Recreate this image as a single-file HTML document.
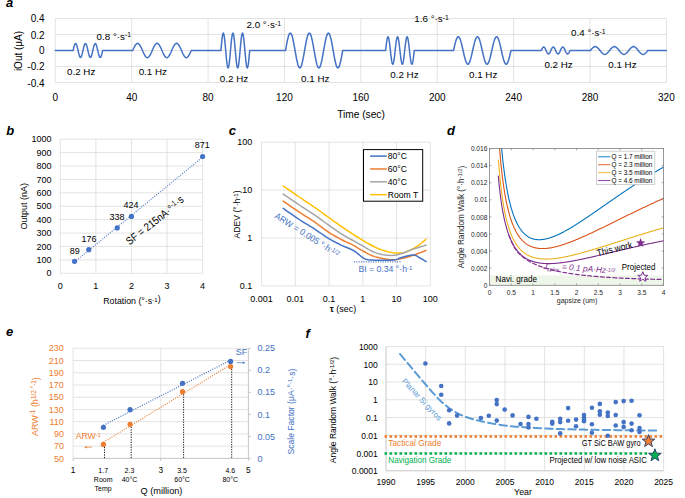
<!DOCTYPE html>
<html><head><meta charset="utf-8"><style>html,body{margin:0;padding:0;background:#fff;}svg{display:block;}text{font-family:"Liberation Sans",sans-serif;}</style></head>
<body><svg width="685" height="498" viewBox="0 0 685 498">
<rect width="685" height="498" fill="#fff"/>
<text x="6.00" y="7.00" font-size="13" text-anchor="start" fill="#000" dy="0" font-weight="bold" font-style="italic" >a</text>
<text x="6.20" y="134.80" font-size="13" text-anchor="start" fill="#000" dy="0" font-weight="bold" font-style="italic" >b</text>
<text x="228.70" y="135.20" font-size="13" text-anchor="start" fill="#000" dy="0" font-weight="bold" font-style="italic" >c</text>
<text x="447.00" y="135.00" font-size="13" text-anchor="start" fill="#000" dy="0" font-weight="bold" font-style="italic" >d</text>
<text x="6.00" y="335.70" font-size="13" text-anchor="start" fill="#000" dy="0" font-weight="bold" font-style="italic" >e</text>
<text x="305.50" y="338.00" font-size="13" text-anchor="start" fill="#000" dy="0" font-weight="bold" font-style="italic" >f</text>
<line x1="55.30" y1="18.50" x2="666.40" y2="18.50" stroke="#D9D9D9" stroke-width="0.75" />
<line x1="55.30" y1="34.50" x2="666.40" y2="34.50" stroke="#D9D9D9" stroke-width="0.75" />
<line x1="55.30" y1="50.50" x2="666.40" y2="50.50" stroke="#D9D9D9" stroke-width="0.75" />
<line x1="55.30" y1="66.50" x2="666.40" y2="66.50" stroke="#D9D9D9" stroke-width="0.75" />
<line x1="55.30" y1="82.50" x2="666.40" y2="82.50" stroke="#D9D9D9" stroke-width="0.75" />
<line x1="55.30" y1="18.50" x2="55.30" y2="82.50" stroke="#D9D9D9" stroke-width="0.75" />
<line x1="131.69" y1="18.50" x2="131.69" y2="82.50" stroke="#D9D9D9" stroke-width="0.75" />
<line x1="208.07" y1="18.50" x2="208.07" y2="82.50" stroke="#D9D9D9" stroke-width="0.75" />
<line x1="284.46" y1="18.50" x2="284.46" y2="82.50" stroke="#D9D9D9" stroke-width="0.75" />
<line x1="360.85" y1="18.50" x2="360.85" y2="82.50" stroke="#D9D9D9" stroke-width="0.75" />
<line x1="437.24" y1="18.50" x2="437.24" y2="82.50" stroke="#D9D9D9" stroke-width="0.75" />
<line x1="513.62" y1="18.50" x2="513.62" y2="82.50" stroke="#D9D9D9" stroke-width="0.75" />
<line x1="590.01" y1="18.50" x2="590.01" y2="82.50" stroke="#D9D9D9" stroke-width="0.75" />
<line x1="666.40" y1="18.50" x2="666.40" y2="82.50" stroke="#D9D9D9" stroke-width="0.75" />
<text x="44.60" y="18.60" font-size="10" text-anchor="end" fill="#000" dy="0.35em" >0.4</text>
<text x="44.60" y="35.00" font-size="10" text-anchor="end" fill="#000" dy="0.35em" >0.2</text>
<text x="44.60" y="50.60" font-size="10" text-anchor="end" fill="#000" dy="0.35em" >0</text>
<text x="44.60" y="66.70" font-size="10" text-anchor="end" fill="#000" dy="0.35em" >-0.2</text>
<text x="44.60" y="83.10" font-size="10" text-anchor="end" fill="#000" dy="0.35em" >-0.4</text>
<text x="55.30" y="97.60" font-size="10" text-anchor="middle" fill="#000" dy="0.35em" >0</text>
<text x="131.69" y="97.60" font-size="10" text-anchor="middle" fill="#000" dy="0.35em" >40</text>
<text x="208.07" y="97.60" font-size="10" text-anchor="middle" fill="#000" dy="0.35em" >80</text>
<text x="284.46" y="97.60" font-size="10" text-anchor="middle" fill="#000" dy="0.35em" >120</text>
<text x="360.85" y="97.60" font-size="10" text-anchor="middle" fill="#000" dy="0.35em" >160</text>
<text x="437.24" y="97.60" font-size="10" text-anchor="middle" fill="#000" dy="0.35em" >200</text>
<text x="513.62" y="97.60" font-size="10" text-anchor="middle" fill="#000" dy="0.35em" >240</text>
<text x="590.01" y="97.60" font-size="10" text-anchor="middle" fill="#000" dy="0.35em" >280</text>
<text x="666.40" y="97.60" font-size="10" text-anchor="middle" fill="#000" dy="0.35em" >320</text>
<text x="361.00" y="114.20" font-size="10.2" text-anchor="middle" fill="#000" dy="0.35em" >Time (sec)</text>
<text x="18" y="51" font-size="10" text-anchor="middle" dy="0.35em" transform="rotate(-90 18 51)">iOut (μA)</text>
<path d="M55.30,50.50 L73.14,50.50 L73.14,50.50 L73.63,48.34 L74.12,46.39 L74.61,44.84 L75.11,43.84 L75.60,43.50 L76.09,43.84 L76.58,44.84 L77.08,46.39 L77.57,48.34 L78.06,50.50 L78.55,52.66 L79.05,54.61 L79.54,56.16 L80.03,57.16 L80.52,57.50 L81.02,57.16 L81.51,56.16 L82.00,54.61 L82.49,52.66 L82.99,50.50 L83.48,48.34 L83.97,46.39 L84.46,44.84 L84.96,43.84 L85.45,43.50 L85.94,43.84 L86.43,44.84 L86.93,46.39 L87.42,48.34 L87.91,50.50 L88.40,52.66 L88.90,54.61 L89.39,56.16 L89.88,57.16 L90.37,57.50 L90.87,57.16 L91.36,56.16 L91.85,54.61 L92.34,52.66 L92.84,50.50 L93.33,48.34 L93.82,46.39 L94.31,44.84 L94.81,43.84 L95.30,43.50 L95.79,43.84 L96.28,44.84 L96.78,46.39 L97.27,48.34 L97.76,50.50 L98.25,52.66 L98.75,54.61 L99.24,56.16 L99.73,57.16 L100.22,57.50 L100.72,57.16 L101.21,56.16 L101.70,54.61 L102.19,52.66 L102.69,50.50 L132.72,50.50 L132.72,50.50 L133.70,48.28 L134.67,46.27 L135.65,44.68 L136.62,43.65 L137.60,43.30 L138.57,43.65 L139.55,44.68 L140.53,46.27 L141.50,48.28 L142.47,50.50 L143.45,52.72 L144.42,54.73 L145.40,56.32 L146.38,57.35 L147.35,57.70 L148.32,57.35 L149.30,56.32 L150.28,54.73 L151.25,52.72 L152.22,50.50 L153.20,48.28 L154.17,46.27 L155.15,44.68 L156.12,43.65 L157.10,43.30 L158.07,43.65 L159.05,44.68 L160.03,46.27 L161.00,48.28 L161.97,50.50 L162.95,52.72 L163.92,54.73 L164.90,56.32 L165.88,57.35 L166.85,57.70 L167.82,57.35 L168.80,56.32 L169.77,54.73 L170.75,52.72 L171.72,50.50 L172.70,48.28 L173.68,46.27 L174.65,44.68 L175.62,43.65 L176.60,43.30 L177.57,43.65 L178.55,44.68 L179.52,46.27 L180.50,48.28 L181.47,50.50 L182.45,52.72 L183.43,54.73 L184.40,56.32 L185.38,57.35 L186.35,57.70 L187.32,57.35 L188.30,56.32 L189.27,54.73 L190.25,52.72 L191.22,50.50 L220.90,50.50 L220.90,50.50 L221.38,45.09 L221.86,40.21 L222.34,36.34 L222.82,33.86 L223.30,33.00 L223.78,33.86 L224.26,36.34 L224.74,40.21 L225.22,45.09 L225.70,50.50 L226.18,55.91 L226.66,60.79 L227.14,64.66 L227.62,67.14 L228.10,68.00 L228.58,67.14 L229.06,64.66 L229.54,60.79 L230.02,55.91 L230.50,50.50 L230.98,45.09 L231.46,40.21 L231.94,36.34 L232.42,33.86 L232.90,33.00 L233.38,33.86 L233.86,36.34 L234.34,40.21 L234.82,45.09 L235.30,50.50 L235.78,55.91 L236.26,60.79 L236.74,64.66 L237.22,67.14 L237.70,68.00 L238.18,67.14 L238.66,64.66 L239.14,60.79 L239.62,55.91 L240.10,50.50 L240.58,45.09 L241.06,40.21 L241.54,36.34 L242.02,33.86 L242.50,33.00 L242.98,33.86 L243.46,36.34 L243.94,40.21 L244.42,45.09 L244.90,50.50 L245.38,55.91 L245.86,60.79 L246.34,64.66 L246.82,67.14 L247.30,68.00 L247.78,67.14 L248.26,64.66 L248.74,60.79 L249.22,55.91 L249.70,50.50 L285.54,50.50 L285.54,50.50 L286.49,45.09 L287.44,40.21 L288.40,36.34 L289.35,33.86 L290.30,33.00 L291.25,33.86 L292.21,36.34 L293.16,40.21 L294.11,45.09 L295.06,50.50 L296.02,55.91 L296.97,60.79 L297.92,64.66 L298.87,67.14 L299.83,68.00 L300.78,67.14 L301.73,64.66 L302.68,60.79 L303.64,55.91 L304.59,50.50 L305.54,45.09 L306.49,40.21 L307.45,36.34 L308.40,33.86 L309.35,33.00 L310.30,33.86 L311.26,36.34 L312.21,40.21 L313.16,45.09 L314.11,50.50 L315.06,55.91 L316.02,60.79 L316.97,64.66 L317.92,67.14 L318.88,68.00 L319.83,67.14 L320.78,64.66 L321.73,60.79 L322.69,55.91 L323.64,50.50 L324.59,45.09 L325.54,40.21 L326.50,36.34 L327.45,33.86 L328.40,33.00 L329.35,33.86 L330.31,36.34 L331.26,40.21 L332.21,45.09 L333.16,50.50 L334.12,55.91 L335.07,60.79 L336.02,64.66 L336.97,67.14 L337.93,68.00 L338.88,67.14 L339.83,64.66 L340.78,60.79 L341.74,55.91 L342.69,50.50 L385.61,50.50 L385.61,50.50 L386.09,46.24 L386.57,42.39 L387.05,39.34 L387.52,37.38 L388.00,36.70 L388.48,37.38 L388.95,39.34 L389.43,42.39 L389.91,46.24 L390.39,50.50 L390.87,54.76 L391.34,58.61 L391.82,61.66 L392.30,63.62 L392.78,64.30 L393.25,63.62 L393.73,61.66 L394.21,58.61 L394.69,54.76 L395.16,50.50 L395.64,46.24 L396.12,42.39 L396.60,39.34 L397.07,37.38 L397.55,36.70 L398.03,37.38 L398.50,39.34 L398.98,42.39 L399.46,46.24 L399.94,50.50 L400.42,54.76 L400.89,58.61 L401.37,61.66 L401.85,63.62 L402.32,64.30 L402.80,63.62 L403.28,61.66 L403.76,58.61 L404.24,54.76 L404.71,50.50 L405.19,46.24 L405.67,42.39 L406.15,39.34 L406.62,37.38 L407.10,36.70 L407.58,37.38 L408.06,39.34 L408.53,42.39 L409.01,46.24 L409.49,50.50 L409.97,54.76 L410.44,58.61 L410.92,61.66 L411.40,63.62 L411.88,64.30 L412.35,63.62 L412.83,61.66 L413.31,58.61 L413.79,54.76 L414.26,50.50 L453.51,50.50 L453.51,50.50 L454.47,46.24 L455.43,42.39 L456.38,39.34 L457.34,37.38 L458.30,36.70 L459.26,37.38 L460.21,39.34 L461.17,42.39 L462.13,46.24 L463.09,50.50 L464.04,54.76 L465.00,58.61 L465.96,61.66 L466.92,63.62 L467.88,64.30 L468.83,63.62 L469.79,61.66 L470.75,58.61 L471.70,54.76 L472.66,50.50 L473.62,46.24 L474.58,42.39 L475.53,39.34 L476.49,37.38 L477.45,36.70 L478.41,37.38 L479.37,39.34 L480.32,42.39 L481.28,46.24 L482.24,50.50 L483.19,54.76 L484.15,58.61 L485.11,61.66 L486.07,63.62 L487.02,64.30 L487.98,63.62 L488.94,61.66 L489.90,58.61 L490.85,54.76 L491.81,50.50 L492.77,46.24 L493.73,42.39 L494.69,39.34 L495.64,37.38 L496.60,36.70 L497.56,37.38 L498.51,39.34 L499.47,42.39 L500.43,46.24 L501.39,50.50 L502.34,54.76 L503.30,58.61 L504.26,61.66 L505.22,63.62 L506.17,64.30 L507.13,63.62 L508.09,61.66 L509.05,58.61 L510.00,54.76 L510.96,50.50 L541.31,50.50 L541.31,50.50 L541.79,49.42 L542.27,48.44 L542.75,47.67 L543.22,47.17 L543.70,47.00 L544.18,47.17 L544.65,47.67 L545.13,48.44 L545.61,49.42 L546.09,50.50 L546.57,51.58 L547.04,52.56 L547.52,53.33 L548.00,53.83 L548.48,54.00 L548.95,53.83 L549.43,53.33 L549.91,52.56 L550.38,51.58 L550.86,50.50 L551.34,49.42 L551.82,48.44 L552.29,47.67 L552.77,47.17 L553.25,47.00 L553.73,47.17 L554.21,47.67 L554.68,48.44 L555.16,49.42 L555.64,50.50 L556.12,51.58 L556.59,52.56 L557.07,53.33 L557.55,53.83 L558.02,54.00 L558.50,53.83 L558.98,53.33 L559.46,52.56 L559.93,51.58 L560.41,50.50 L560.89,49.42 L561.37,48.44 L561.85,47.67 L562.32,47.17 L562.80,47.00 L563.28,47.17 L563.75,47.67 L564.23,48.44 L564.71,49.42 L565.19,50.50 L565.66,51.58 L566.14,52.56 L566.62,53.33 L567.10,53.83 L567.58,54.00 L568.05,53.83 L568.53,53.33 L569.01,52.56 L569.49,51.58 L569.96,50.50 L590.41,50.50 L590.41,50.50 L591.37,49.29 L592.33,48.21 L593.28,47.34 L594.24,46.79 L595.20,46.60 L596.16,46.79 L597.12,47.34 L598.07,48.21 L599.03,49.29 L599.99,50.50 L600.95,51.71 L601.90,52.79 L602.86,53.66 L603.82,54.21 L604.77,54.40 L605.73,54.21 L606.69,53.66 L607.65,52.79 L608.61,51.71 L609.56,50.50 L610.52,49.29 L611.48,48.21 L612.44,47.34 L613.39,46.79 L614.35,46.60 L615.31,46.79 L616.26,47.34 L617.22,48.21 L618.18,49.29 L619.14,50.50 L620.10,51.71 L621.05,52.79 L622.01,53.66 L622.97,54.21 L623.93,54.40 L624.88,54.21 L625.84,53.66 L626.80,52.79 L627.75,51.71 L628.71,50.50 L629.67,49.29 L630.63,48.21 L631.59,47.34 L632.54,46.79 L633.50,46.60 L634.46,46.79 L635.41,47.34 L636.37,48.21 L637.33,49.29 L638.29,50.50 L639.25,51.71 L640.20,52.79 L641.16,53.66 L642.12,54.21 L643.08,54.40 L644.03,54.21 L644.99,53.66 L645.95,52.79 L646.90,51.71 L647.86,50.50 L666.40,50.50" fill="none" stroke="#4472C4" stroke-width="1.5" stroke-linejoin="round" stroke-linecap="round" />
<text x="96.60" y="36.30" font-size="9.8" text-anchor="start" fill="#000" dy="0.35em" >0.8 °·s<tspan dy="-0.35em" font-size="70%">-1</tspan></text>
<text x="246.50" y="24.70" font-size="9.8" text-anchor="start" fill="#000" dy="0.35em" >2.0 °·s<tspan dy="-0.35em" font-size="70%">-1</tspan></text>
<text x="414.30" y="18.80" font-size="9.8" text-anchor="start" fill="#000" dy="0.35em" >1.6 °·s<tspan dy="-0.35em" font-size="70%">-1</tspan></text>
<text x="571.10" y="32.60" font-size="9.8" text-anchor="start" fill="#000" dy="0.35em" >0.4 °·s<tspan dy="-0.35em" font-size="70%">-1</tspan></text>
<text x="81.15" y="71.30" font-size="9.8" text-anchor="middle" fill="#000" dy="0.35em" >0.2 Hz</text>
<text x="234.00" y="79.00" font-size="9.8" text-anchor="middle" fill="#000" dy="0.35em" >0.2 Hz</text>
<text x="404.45" y="74.60" font-size="9.8" text-anchor="middle" fill="#000" dy="0.35em" >0.2 Hz</text>
<text x="558.60" y="64.30" font-size="9.8" text-anchor="middle" fill="#000" dy="0.35em" >0.2 Hz</text>
<text x="152.85" y="71.30" font-size="9.8" text-anchor="middle" fill="#000" dy="0.35em" >0.1 Hz</text>
<text x="315.25" y="79.00" font-size="9.8" text-anchor="middle" fill="#000" dy="0.35em" >0.1 Hz</text>
<text x="483.15" y="74.60" font-size="9.8" text-anchor="middle" fill="#000" dy="0.35em" >0.1 Hz</text>
<text x="622.40" y="64.30" font-size="9.8" text-anchor="middle" fill="#000" dy="0.35em" >0.1 Hz</text>
<line x1="60.30" y1="273.30" x2="202.60" y2="273.30" stroke="#D9D9D9" stroke-width="0.75" />
<line x1="60.30" y1="259.89" x2="202.60" y2="259.89" stroke="#D9D9D9" stroke-width="0.75" />
<line x1="60.30" y1="246.48" x2="202.60" y2="246.48" stroke="#D9D9D9" stroke-width="0.75" />
<line x1="60.30" y1="233.07" x2="202.60" y2="233.07" stroke="#D9D9D9" stroke-width="0.75" />
<line x1="60.30" y1="219.66" x2="202.60" y2="219.66" stroke="#D9D9D9" stroke-width="0.75" />
<line x1="60.30" y1="206.25" x2="202.60" y2="206.25" stroke="#D9D9D9" stroke-width="0.75" />
<line x1="60.30" y1="192.84" x2="202.60" y2="192.84" stroke="#D9D9D9" stroke-width="0.75" />
<line x1="60.30" y1="179.43" x2="202.60" y2="179.43" stroke="#D9D9D9" stroke-width="0.75" />
<line x1="60.30" y1="166.02" x2="202.60" y2="166.02" stroke="#D9D9D9" stroke-width="0.75" />
<line x1="60.30" y1="152.61" x2="202.60" y2="152.61" stroke="#D9D9D9" stroke-width="0.75" />
<line x1="60.30" y1="139.20" x2="202.60" y2="139.20" stroke="#D9D9D9" stroke-width="0.75" />
<line x1="60.30" y1="139.20" x2="60.30" y2="273.30" stroke="#D9D9D9" stroke-width="0.75" />
<line x1="95.88" y1="139.20" x2="95.88" y2="273.30" stroke="#D9D9D9" stroke-width="0.75" />
<line x1="131.45" y1="139.20" x2="131.45" y2="273.30" stroke="#D9D9D9" stroke-width="0.75" />
<line x1="167.03" y1="139.20" x2="167.03" y2="273.30" stroke="#D9D9D9" stroke-width="0.75" />
<line x1="202.60" y1="139.20" x2="202.60" y2="273.30" stroke="#D9D9D9" stroke-width="0.75" />
<text x="51.50" y="273.30" font-size="9" text-anchor="end" fill="#000" dy="0.35em" >0</text>
<text x="51.50" y="259.89" font-size="9" text-anchor="end" fill="#000" dy="0.35em" >100</text>
<text x="51.50" y="246.48" font-size="9" text-anchor="end" fill="#000" dy="0.35em" >200</text>
<text x="51.50" y="233.07" font-size="9" text-anchor="end" fill="#000" dy="0.35em" >300</text>
<text x="51.50" y="219.66" font-size="9" text-anchor="end" fill="#000" dy="0.35em" >400</text>
<text x="51.50" y="206.25" font-size="9" text-anchor="end" fill="#000" dy="0.35em" >500</text>
<text x="51.50" y="192.84" font-size="9" text-anchor="end" fill="#000" dy="0.35em" >600</text>
<text x="51.50" y="179.43" font-size="9" text-anchor="end" fill="#000" dy="0.35em" >700</text>
<text x="51.50" y="166.02" font-size="9" text-anchor="end" fill="#000" dy="0.35em" >800</text>
<text x="51.50" y="152.61" font-size="9" text-anchor="end" fill="#000" dy="0.35em" >900</text>
<text x="51.50" y="139.20" font-size="9" text-anchor="end" fill="#000" dy="0.35em" >1000</text>
<text x="60.30" y="286.30" font-size="9" text-anchor="middle" fill="#000" dy="0.35em" >0</text>
<text x="95.88" y="286.30" font-size="9" text-anchor="middle" fill="#000" dy="0.35em" >1</text>
<text x="131.45" y="286.30" font-size="9" text-anchor="middle" fill="#000" dy="0.35em" >2</text>
<text x="167.03" y="286.30" font-size="9" text-anchor="middle" fill="#000" dy="0.35em" >3</text>
<text x="202.60" y="286.30" font-size="9" text-anchor="middle" fill="#000" dy="0.35em" >4</text>
<text x="131.90" y="300.70" font-size="8.8" text-anchor="middle" fill="#000" dy="0.35em" >Rotation (°·s<tspan dy="-0.35em" font-size="70%">-1</tspan>)</text>
<text x="23.7" y="206.3" font-size="9" text-anchor="middle" dy="0.35em" transform="rotate(-90 23.7 206.3)">Output (nA)</text>
<line x1="74.53" y1="262.00" x2="202.60" y2="157.17" stroke="#4472C4" stroke-width="1.1" stroke-dasharray="1 1.4"/>
<circle cx="74.53" cy="261.37" r="2.6" fill="#4472C4"/>
<circle cx="88.76" cy="249.70" r="2.6" fill="#4472C4"/>
<circle cx="117.22" cy="227.97" r="2.6" fill="#4472C4"/>
<circle cx="131.45" cy="216.44" r="2.6" fill="#4472C4"/>
<circle cx="202.60" cy="156.50" r="2.6" fill="#4472C4"/>
<text x="74.70" y="250.60" font-size="9" text-anchor="middle" fill="#000" dy="0.35em" >89</text>
<text x="88.90" y="238.50" font-size="9" text-anchor="middle" fill="#000" dy="0.35em" >176</text>
<text x="117.00" y="216.70" font-size="9" text-anchor="middle" fill="#000" dy="0.35em" >338</text>
<text x="131.10" y="205.30" font-size="9" text-anchor="middle" fill="#000" dy="0.35em" >424</text>
<text x="202.30" y="145.00" font-size="9" text-anchor="middle" fill="#000" dy="0.35em" >871</text>
<text x="0" y="0" font-size="11" transform="translate(129.5,245.5) rotate(-38) scale(0.86,1)">SF = 215nA·°<tspan dy="-0.45em" font-size="70%">-1</tspan><tspan dy="0.2em">·s</tspan></text>
<line x1="261.60" y1="142.20" x2="261.60" y2="285.90" stroke="#D9D9D9" stroke-width="0.75" />
<line x1="295.34" y1="142.20" x2="295.34" y2="285.90" stroke="#D9D9D9" stroke-width="0.75" />
<line x1="329.08" y1="142.20" x2="329.08" y2="285.90" stroke="#D9D9D9" stroke-width="0.75" />
<line x1="362.82" y1="142.20" x2="362.82" y2="285.90" stroke="#D9D9D9" stroke-width="0.75" />
<line x1="396.56" y1="142.20" x2="396.56" y2="285.90" stroke="#D9D9D9" stroke-width="0.75" />
<line x1="430.30" y1="142.20" x2="430.30" y2="285.90" stroke="#D9D9D9" stroke-width="0.75" />
<line x1="261.60" y1="285.90" x2="430.30" y2="285.90" stroke="#D9D9D9" stroke-width="0.75" />
<line x1="261.60" y1="238.00" x2="430.30" y2="238.00" stroke="#D9D9D9" stroke-width="0.75" />
<line x1="261.60" y1="190.10" x2="430.30" y2="190.10" stroke="#D9D9D9" stroke-width="0.75" />
<line x1="261.60" y1="142.20" x2="430.30" y2="142.20" stroke="#D9D9D9" stroke-width="0.75" />
<text x="252.30" y="142.20" font-size="9" text-anchor="end" fill="#000" dy="0.35em" >100</text>
<text x="252.30" y="190.10" font-size="9" text-anchor="end" fill="#000" dy="0.35em" >10</text>
<text x="252.30" y="238.00" font-size="9" text-anchor="end" fill="#000" dy="0.35em" >1</text>
<text x="252.30" y="285.90" font-size="9" text-anchor="end" fill="#000" dy="0.35em" >0.1</text>
<text x="261.60" y="298.50" font-size="9" text-anchor="middle" fill="#000" dy="0.35em" >0.001</text>
<text x="295.34" y="298.50" font-size="9" text-anchor="middle" fill="#000" dy="0.35em" >0.01</text>
<text x="329.08" y="298.50" font-size="9" text-anchor="middle" fill="#000" dy="0.35em" >0.1</text>
<text x="362.82" y="298.50" font-size="9" text-anchor="middle" fill="#000" dy="0.35em" >1</text>
<text x="396.56" y="298.50" font-size="9" text-anchor="middle" fill="#000" dy="0.35em" >10</text>
<text x="430.30" y="298.50" font-size="9" text-anchor="middle" fill="#000" dy="0.35em" >100</text>
<text x="343" y="308.5" font-size="9" text-anchor="middle" dy="0.35em"><tspan font-weight="bold">τ</tspan> (sec)</text>
<text x="236.8" y="214.4" font-size="8.6" text-anchor="middle" dy="0.35em" transform="rotate(-90 236.8 214.4)">ADEV (°·h<tspan dy="-0.35em" font-size="70%">-1</tspan><tspan dy="0.25em">)</tspan></text>
<path d="M283.20,186.00 L285.06,187.27 L287.66,189.06 L290.72,191.16 L293.98,193.39 L297.16,195.57 L300.00,197.50 L302.50,199.19 L304.88,200.78 L307.18,202.31 L309.46,203.83 L311.75,205.38 L314.10,207.00 L316.53,208.70 L319.00,210.46 L321.49,212.24 L323.97,214.03 L326.42,215.79 L328.80,217.50 L331.10,219.16 L333.34,220.78 L335.54,222.38 L337.74,223.96 L339.95,225.53 L342.20,227.10 L344.59,228.72 L347.10,230.39 L349.64,232.06 L352.07,233.64 L354.30,235.08 L356.20,236.30 L357.69,237.25 L358.86,237.98 L359.81,238.56 L360.67,239.07 L361.56,239.59 L362.60,240.20 L363.76,240.89 L364.94,241.60 L366.15,242.32 L367.39,243.05 L368.67,243.78 L370.00,244.50 L371.36,245.23 L372.74,245.97 L374.17,246.71 L375.64,247.43 L377.18,248.14 L378.80,248.80 L380.53,249.45 L382.38,250.09 L384.29,250.71 L386.22,251.29 L388.10,251.79 L389.90,252.20 L391.63,252.52 L393.34,252.77 L395.01,252.94 L396.62,253.06 L398.16,253.11 L399.60,253.10 L400.91,253.04 L402.09,252.94 L403.19,252.77 L404.27,252.53 L405.39,252.21 L406.60,251.80 L407.93,251.27 L409.35,250.61 L410.81,249.88 L412.25,249.10 L413.63,248.33 L414.90,247.60 L416.06,246.91 L417.14,246.23 L418.16,245.55 L419.13,244.87 L420.07,244.19 L421.00,243.50 L421.95,242.76 L422.93,241.95 L423.88,241.14 L424.74,240.39 L425.47,239.76 L426.00,239.30" fill="none" stroke="#FFC000" stroke-width="1.5" stroke-linejoin="round" stroke-linecap="round" />
<path d="M283.20,194.10 L285.06,195.37 L287.66,197.14 L290.72,199.22 L293.98,201.44 L297.16,203.60 L300.00,205.50 L302.50,207.15 L304.88,208.68 L307.18,210.16 L309.46,211.62 L311.75,213.12 L314.10,214.70 L316.53,216.39 L319.00,218.15 L321.49,219.95 L323.97,221.75 L326.42,223.51 L328.80,225.20 L331.13,226.84 L333.44,228.47 L335.72,230.06 L337.94,231.60 L340.11,233.05 L342.20,234.40 L344.22,235.63 L346.17,236.76 L348.06,237.80 L349.90,238.79 L351.67,239.75 L353.40,240.70 L355.02,241.62 L356.51,242.47 L357.94,243.29 L359.39,244.11 L360.92,244.97 L362.60,245.90 L364.44,246.95 L366.40,248.11 L368.44,249.30 L370.53,250.46 L372.63,251.52 L374.70,252.40 L376.78,253.12 L378.89,253.74 L381.01,254.25 L383.12,254.66 L385.19,254.98 L387.20,255.20 L389.08,255.34 L390.85,255.40 L392.58,255.37 L394.35,255.22 L396.23,254.93 L398.30,254.50 L400.63,253.84 L403.16,252.96 L405.81,251.94 L408.48,250.89 L411.08,249.87 L413.50,249.00 L415.88,248.22 L418.33,247.47 L420.70,246.76 L422.86,246.12 L424.67,245.59 L426.00,245.20" fill="none" stroke="#A5A5A5" stroke-width="1.5" stroke-linejoin="round" stroke-linecap="round" />
<path d="M283.20,201.10 L285.06,202.38 L287.66,204.17 L290.72,206.28 L293.98,208.52 L297.16,210.69 L300.00,212.60 L302.50,214.24 L304.88,215.76 L307.18,217.21 L309.46,218.64 L311.75,220.12 L314.10,221.70 L316.53,223.41 L319.00,225.23 L321.49,227.09 L323.97,228.93 L326.42,230.68 L328.80,232.30 L331.13,233.78 L333.44,235.17 L335.72,236.48 L337.94,237.72 L340.11,238.89 L342.20,240.00 L344.22,241.02 L346.17,241.94 L348.06,242.79 L349.90,243.61 L351.67,244.43 L353.40,245.30 L355.02,246.20 L356.51,247.11 L357.94,248.02 L359.39,248.94 L360.92,249.86 L362.60,250.80 L364.40,251.78 L366.25,252.81 L368.19,253.85 L370.23,254.86 L372.39,255.79 L374.70,256.60 L377.27,257.33 L380.10,258.00 L383.06,258.60 L386.01,259.10 L388.80,259.48 L391.30,259.70 L393.47,259.75 L395.41,259.63 L397.19,259.39 L398.90,259.06 L400.61,258.68 L402.40,258.30 L404.23,257.90 L406.05,257.46 L407.86,256.96 L409.70,256.42 L411.57,255.83 L413.50,255.20 L415.65,254.44 L418.03,253.55 L420.44,252.61 L422.71,251.71 L424.62,250.94 L426.00,250.40" fill="none" stroke="#ED7D31" stroke-width="1.5" stroke-linejoin="round" stroke-linecap="round" />
<path d="M283.20,208.40 L285.06,209.70 L287.66,211.51 L290.72,213.66 L293.98,215.92 L297.16,218.10 L300.00,220.00 L302.50,221.60 L304.88,223.07 L307.18,224.46 L309.46,225.82 L311.75,227.21 L314.10,228.70 L316.53,230.31 L319.00,232.02 L321.49,233.76 L323.97,235.47 L326.42,237.10 L328.80,238.60 L331.13,239.96 L333.44,241.23 L335.72,242.41 L337.94,243.53 L340.11,244.59 L342.20,245.60 L344.22,246.51 L346.17,247.31 L348.06,248.05 L349.90,248.79 L351.67,249.59 L353.40,250.50 L355.11,251.60 L356.81,252.87 L358.45,254.19 L359.99,255.47 L361.39,256.60 L362.60,257.50 L363.55,258.13 L364.27,258.56 L364.84,258.84 L365.36,259.04 L365.92,259.21 L366.60,259.40 L367.23,259.59 L367.70,259.75 L368.20,259.87 L368.94,259.96 L370.10,260.04 L371.90,260.10 L374.60,260.17 L378.10,260.26 L382.02,260.32 L386.01,260.33 L389.70,260.27 L392.70,260.10 L394.94,259.79 L396.70,259.36 L398.16,258.84 L399.47,258.30 L400.83,257.77 L402.40,257.30 L404.22,256.83 L406.17,256.30 L408.15,255.79 L410.09,255.36 L411.90,255.07 L413.50,255.00 L414.86,255.19 L416.03,255.59 L417.07,256.14 L418.04,256.77 L419.00,257.41 L420.00,258.00 L421.10,258.59 L422.26,259.26 L423.41,259.94 L424.46,260.57 L425.35,261.11 L426.00,261.50" fill="none" stroke="#4472C4" stroke-width="1.5" stroke-linejoin="round" stroke-linecap="round" />
<rect x="363.5" y="149.6" width="59.2" height="51.6" fill="#fff" stroke="#000" stroke-width="1"/>
<line x1="370.10" y1="156.10" x2="386.80" y2="156.10" stroke="#4472C4" stroke-width="1.5" />
<text x="387.80" y="156.10" font-size="8.6" text-anchor="start" fill="#000" dy="0.35em" >80°C</text>
<line x1="370.10" y1="168.95" x2="386.80" y2="168.95" stroke="#ED7D31" stroke-width="1.5" />
<text x="387.80" y="168.95" font-size="8.6" text-anchor="start" fill="#000" dy="0.35em" >60°C</text>
<line x1="370.10" y1="181.80" x2="386.80" y2="181.80" stroke="#A5A5A5" stroke-width="1.5" />
<text x="387.80" y="181.80" font-size="8.6" text-anchor="start" fill="#000" dy="0.35em" >40°C</text>
<line x1="370.10" y1="194.65" x2="386.80" y2="194.65" stroke="#FFC000" stroke-width="1.5" />
<text x="387.80" y="194.65" font-size="8.6" text-anchor="start" fill="#000" dy="0.35em" >Room T</text>
<text x="0" y="0" font-size="9" fill="#4472C4" transform="translate(274,217.5) rotate(32.5) scale(0.95,1)">ARW = 0.005 °·h<tspan dy="-0.4em" font-size="70%">-1/2</tspan></text>
<line x1="353.90" y1="261.90" x2="401.70" y2="261.90" stroke="#4472C4" stroke-width="1.1" stroke-dasharray="1 1.4"/>
<text x="358.40" y="269.20" font-size="8.7" text-anchor="start" fill="#4472C4" dy="0.35em" >BI = 0.34 °·h<tspan dy="-0.35em" font-size="70%">-1</tspan></text>
<rect x="489.6" y="275.4" width="173.89999999999998" height="9.900000000000034" fill="#EEF5E9"/>
<path d="M501.64,148.50 L502.00,152.32 L502.50,157.20 L503.00,161.76 L503.50,166.02 L504.00,170.01 L504.50,173.77 L505.00,177.30 L505.50,180.62 L506.00,183.75 L506.50,186.71 L507.00,189.50 L507.50,192.14 L508.00,194.65 L508.50,197.02 L509.00,199.26 L509.50,201.40 L510.00,203.42 L510.50,205.34 L511.00,207.17 L511.50,208.91 L512.00,210.57 L512.50,212.14 L513.00,213.64 L513.50,215.07 L514.00,216.43 L514.50,217.72 L515.00,218.95 L515.50,220.13 L516.00,221.25 L516.50,222.32 L517.00,223.34 L517.50,224.31 L518.00,225.24 L518.50,226.12 L519.00,226.96 L519.50,227.76 L520.00,228.52 L520.50,229.25 L521.00,229.94 L521.50,230.60 L522.00,231.22 L522.50,231.82 L523.00,232.38 L523.50,232.92 L524.00,233.43 L524.50,233.91 L525.00,234.37 L525.50,234.80 L526.00,235.21 L526.50,235.60 L527.00,235.96 L527.50,236.31 L528.00,236.63 L528.50,236.93 L529.00,237.22 L529.50,237.48 L530.00,237.73 L530.50,237.96 L531.00,238.17 L531.50,238.37 L532.00,238.55 L532.50,238.72 L533.00,238.87 L533.50,239.01 L534.00,239.14 L534.50,239.25 L535.00,239.35 L535.50,239.43 L536.00,239.51 L536.50,239.57 L537.00,239.62 L537.50,239.66 L538.00,239.69 L538.50,239.71 L539.00,239.71 L539.50,239.71 L540.00,239.70 L540.50,239.68 L541.00,239.65 L541.50,239.61 L542.00,239.57 L542.50,239.51 L543.00,239.45 L543.50,239.38 L544.00,239.30 L544.50,239.21 L545.00,239.12 L545.50,239.02 L546.00,238.91 L546.50,238.79 L547.00,238.67 L547.50,238.55 L548.00,238.41 L548.50,238.27 L549.00,238.13 L549.50,237.98 L550.00,237.82 L550.50,237.66 L551.00,237.49 L551.50,237.32 L552.00,237.14 L552.50,236.96 L553.00,236.77 L553.50,236.58 L554.00,236.38 L554.50,236.18 L555.00,235.98 L555.50,235.77 L556.00,235.56 L556.50,235.34 L557.00,235.12 L557.50,234.89 L558.00,234.66 L558.50,234.43 L559.00,234.20 L559.50,233.96 L560.00,233.71 L560.50,233.47 L561.00,233.22 L561.50,232.97 L562.00,232.71 L562.50,232.45 L563.00,232.19 L563.50,231.93 L564.00,231.66 L564.50,231.39 L565.00,231.12 L565.50,230.85 L566.00,230.57 L566.50,230.29 L567.00,230.01 L567.50,229.73 L568.00,229.44 L568.50,229.15 L569.00,228.86 L569.50,228.57 L570.00,228.28 L570.50,227.98 L571.00,227.68 L571.50,227.38 L572.00,227.08 L572.50,226.78 L573.00,226.47 L573.50,226.16 L574.00,225.86 L574.50,225.54 L575.00,225.23 L575.50,224.92 L576.00,224.61 L576.50,224.29 L577.00,223.97 L577.50,223.65 L578.00,223.33 L578.50,223.01 L579.00,222.69 L579.50,222.37 L580.00,222.04 L580.50,221.72 L581.00,221.39 L581.50,221.06 L582.00,220.73 L582.50,220.40 L583.00,220.07 L583.50,219.74 L584.00,219.41 L584.50,219.07 L585.00,218.74 L585.50,218.40 L586.00,218.07 L586.50,217.73 L587.00,217.39 L587.50,217.06 L588.00,216.72 L588.50,216.38 L589.00,216.04 L589.50,215.70 L590.00,215.36 L590.50,215.01 L591.00,214.67 L591.50,214.33 L592.00,213.99 L592.50,213.64 L593.00,213.30 L593.50,212.95 L594.00,212.61 L594.50,212.26 L595.00,211.92 L595.50,211.57 L596.00,211.23 L596.50,210.88 L597.00,210.53 L597.50,210.19 L598.00,209.84 L598.50,209.49 L599.00,209.15 L599.50,208.80 L600.00,208.45 L600.50,208.10 L601.00,207.76 L601.50,207.41 L602.00,207.06 L602.50,206.71 L603.00,206.36 L603.50,206.01 L604.00,205.67 L604.50,205.32 L605.00,204.97 L605.50,204.62 L606.00,204.27 L606.50,203.93 L607.00,203.58 L607.50,203.23 L608.00,202.88 L608.50,202.53 L609.00,202.19 L609.50,201.84 L610.00,201.49 L610.50,201.14 L611.00,200.80 L611.50,200.45 L612.00,200.10 L612.50,199.76 L613.00,199.41 L613.50,199.06 L614.00,198.72 L614.50,198.37 L615.00,198.03 L615.50,197.68 L616.00,197.34 L616.50,196.99 L617.00,196.65 L617.50,196.31 L618.00,195.96 L618.50,195.62 L619.00,195.28 L619.50,194.94 L620.00,194.59 L620.50,194.25 L621.00,193.91 L621.50,193.57 L622.00,193.23 L622.50,192.89 L623.00,192.55 L623.50,192.21 L624.00,191.87 L624.50,191.53 L625.00,191.20 L625.50,190.86 L626.00,190.52 L626.50,190.19 L627.00,189.85 L627.50,189.52 L628.00,189.18 L628.50,188.85 L629.00,188.51 L629.50,188.18 L630.00,187.85 L630.50,187.51 L631.00,187.18 L631.50,186.85 L632.00,186.52 L632.50,186.19 L633.00,185.86 L633.50,185.53 L634.00,185.21 L634.50,184.88 L635.00,184.55 L635.50,184.23 L636.00,183.90 L636.50,183.58 L637.00,183.25 L637.50,182.93 L638.00,182.60 L638.50,182.28 L639.00,181.96 L639.50,181.64 L640.00,181.32 L640.50,181.00 L641.00,180.68 L641.50,180.36 L642.00,180.04 L642.50,179.73 L643.00,179.41 L643.50,179.10 L644.00,178.78 L644.50,178.47 L645.00,178.15 L645.50,177.84 L646.00,177.53 L646.50,177.22 L647.00,176.91 L647.50,176.60 L648.00,176.29 L648.50,175.98 L649.00,175.67 L649.50,175.37 L650.00,175.06 L650.50,174.76 L651.00,174.45 L651.50,174.15 L652.00,173.85 L652.50,173.55 L653.00,173.25 L653.50,172.94 L654.00,172.65 L654.50,172.35 L655.00,172.05 L655.50,171.75 L656.00,171.46 L656.50,171.16 L657.00,170.87 L657.50,170.57 L658.00,170.28 L658.50,169.99 L659.00,169.70 L659.50,169.41 L660.00,169.12 L660.50,168.83 L661.00,168.54 L661.50,168.26 L662.00,167.97 L662.50,167.69 L663.00,167.40 L663.50,167.12" fill="none" stroke="#0072BD" stroke-width="1.1" stroke-linejoin="round" stroke-linecap="round" />
<path d="M499.58,148.50 L500.00,153.63 L500.50,159.24 L501.00,164.41 L501.50,169.20 L502.00,173.64 L502.50,177.77 L503.00,181.62 L503.50,185.22 L504.00,188.59 L504.50,191.74 L505.00,194.71 L505.50,197.50 L506.00,200.13 L506.50,202.61 L507.00,204.95 L507.50,207.16 L508.00,209.25 L508.50,211.23 L509.00,213.11 L509.50,214.89 L510.00,216.59 L510.50,218.20 L511.00,219.72 L511.50,221.18 L512.00,222.56 L512.50,223.88 L513.00,225.14 L513.50,226.34 L514.00,227.48 L514.50,228.57 L515.00,229.61 L515.50,230.60 L516.00,231.54 L516.50,232.45 L517.00,233.31 L517.50,234.14 L518.00,234.92 L518.50,235.68 L519.00,236.39 L519.50,237.08 L520.00,237.74 L520.50,238.36 L521.00,238.96 L521.50,239.53 L522.00,240.08 L522.50,240.60 L523.00,241.09 L523.50,241.57 L524.00,242.02 L524.50,242.45 L525.00,242.86 L525.50,243.25 L526.00,243.62 L526.50,243.97 L527.00,244.31 L527.50,244.63 L528.00,244.93 L528.50,245.22 L529.00,245.49 L529.50,245.75 L530.00,245.99 L530.50,246.22 L531.00,246.44 L531.50,246.64 L532.00,246.83 L532.50,247.01 L533.00,247.18 L533.50,247.33 L534.00,247.48 L534.50,247.61 L535.00,247.74 L535.50,247.85 L536.00,247.96 L536.50,248.06 L537.00,248.14 L537.50,248.22 L538.00,248.29 L538.50,248.35 L539.00,248.41 L539.50,248.45 L540.00,248.49 L540.50,248.52 L541.00,248.54 L541.50,248.56 L542.00,248.57 L542.50,248.57 L543.00,248.57 L543.50,248.56 L544.00,248.54 L544.50,248.52 L545.00,248.50 L545.50,248.46 L546.00,248.43 L546.50,248.38 L547.00,248.33 L547.50,248.28 L548.00,248.22 L548.50,248.16 L549.00,248.09 L549.50,248.02 L550.00,247.94 L550.50,247.86 L551.00,247.77 L551.50,247.68 L552.00,247.59 L552.50,247.49 L553.00,247.39 L553.50,247.28 L554.00,247.18 L554.50,247.06 L555.00,246.95 L555.50,246.83 L556.00,246.71 L556.50,246.58 L557.00,246.45 L557.50,246.32 L558.00,246.18 L558.50,246.05 L559.00,245.91 L559.50,245.76 L560.00,245.62 L560.50,245.47 L561.00,245.32 L561.50,245.16 L562.00,245.01 L562.50,244.85 L563.00,244.69 L563.50,244.52 L564.00,244.36 L564.50,244.19 L565.00,244.02 L565.50,243.85 L566.00,243.67 L566.50,243.49 L567.00,243.32 L567.50,243.14 L568.00,242.95 L568.50,242.77 L569.00,242.58 L569.50,242.40 L570.00,242.21 L570.50,242.02 L571.00,241.82 L571.50,241.63 L572.00,241.43 L572.50,241.24 L573.00,241.04 L573.50,240.84 L574.00,240.64 L574.50,240.43 L575.00,240.23 L575.50,240.02 L576.00,239.82 L576.50,239.61 L577.00,239.40 L577.50,239.19 L578.00,238.98 L578.50,238.77 L579.00,238.55 L579.50,238.34 L580.00,238.12 L580.50,237.90 L581.00,237.69 L581.50,237.47 L582.00,237.25 L582.50,237.03 L583.00,236.80 L583.50,236.58 L584.00,236.36 L584.50,236.13 L585.00,235.91 L585.50,235.68 L586.00,235.45 L586.50,235.23 L587.00,235.00 L587.50,234.77 L588.00,234.54 L588.50,234.31 L589.00,234.08 L589.50,233.85 L590.00,233.61 L590.50,233.38 L591.00,233.15 L591.50,232.91 L592.00,232.68 L592.50,232.44 L593.00,232.21 L593.50,231.97 L594.00,231.73 L594.50,231.50 L595.00,231.26 L595.50,231.02 L596.00,230.78 L596.50,230.54 L597.00,230.30 L597.50,230.06 L598.00,229.82 L598.50,229.58 L599.00,229.34 L599.50,229.10 L600.00,228.86 L600.50,228.61 L601.00,228.37 L601.50,228.13 L602.00,227.89 L602.50,227.64 L603.00,227.40 L603.50,227.16 L604.00,226.91 L604.50,226.67 L605.00,226.42 L605.50,226.18 L606.00,225.93 L606.50,225.69 L607.00,225.44 L607.50,225.20 L608.00,224.95 L608.50,224.71 L609.00,224.46 L609.50,224.22 L610.00,223.97 L610.50,223.72 L611.00,223.48 L611.50,223.23 L612.00,222.99 L612.50,222.74 L613.00,222.49 L613.50,222.25 L614.00,222.00 L614.50,221.75 L615.00,221.51 L615.50,221.26 L616.00,221.01 L616.50,220.77 L617.00,220.52 L617.50,220.27 L618.00,220.03 L618.50,219.78 L619.00,219.53 L619.50,219.29 L620.00,219.04 L620.50,218.80 L621.00,218.55 L621.50,218.30 L622.00,218.06 L622.50,217.81 L623.00,217.57 L623.50,217.32 L624.00,217.07 L624.50,216.83 L625.00,216.58 L625.50,216.34 L626.00,216.09 L626.50,215.85 L627.00,215.60 L627.50,215.36 L628.00,215.11 L628.50,214.87 L629.00,214.62 L629.50,214.38 L630.00,214.13 L630.50,213.89 L631.00,213.65 L631.50,213.40 L632.00,213.16 L632.50,212.92 L633.00,212.67 L633.50,212.43 L634.00,212.19 L634.50,211.95 L635.00,211.70 L635.50,211.46 L636.00,211.22 L636.50,210.98 L637.00,210.74 L637.50,210.50 L638.00,210.26 L638.50,210.02 L639.00,209.77 L639.50,209.53 L640.00,209.30 L640.50,209.06 L641.00,208.82 L641.50,208.58 L642.00,208.34 L642.50,208.10 L643.00,207.86 L643.50,207.62 L644.00,207.39 L644.50,207.15 L645.00,206.91 L645.50,206.68 L646.00,206.44 L646.50,206.20 L647.00,205.97 L647.50,205.73 L648.00,205.50 L648.50,205.26 L649.00,205.03 L649.50,204.80 L650.00,204.56 L650.50,204.33 L651.00,204.10 L651.50,203.86 L652.00,203.63 L652.50,203.40 L653.00,203.17 L653.50,202.94 L654.00,202.71 L654.50,202.48 L655.00,202.25 L655.50,202.02 L656.00,201.79 L656.50,201.56 L657.00,201.33 L657.50,201.10 L658.00,200.87 L658.50,200.64 L659.00,200.42 L659.50,200.19 L660.00,199.96 L660.50,199.74 L661.00,199.51 L661.50,199.29 L662.00,199.06 L662.50,198.84 L663.00,198.62 L663.50,198.39" fill="none" stroke="#D95319" stroke-width="1.1" stroke-linejoin="round" stroke-linecap="round" />
<path d="M498.44,160.10 L498.50,160.92 L499.00,167.25 L499.50,173.00 L500.00,178.26 L500.50,183.07 L501.00,187.49 L501.50,191.58 L502.00,195.36 L502.50,198.86 L503.00,202.12 L503.50,205.16 L504.00,208.00 L504.50,210.66 L505.00,213.15 L505.50,215.49 L506.00,217.69 L506.50,219.76 L507.00,221.72 L507.50,223.56 L508.00,225.31 L508.50,226.96 L509.00,228.52 L509.50,230.01 L510.00,231.41 L510.50,232.75 L511.00,234.02 L511.50,235.23 L512.00,236.38 L512.50,237.47 L513.00,238.52 L513.50,239.51 L514.00,240.46 L514.50,241.37 L515.00,242.23 L515.50,243.06 L516.00,243.84 L516.50,244.60 L517.00,245.32 L517.50,246.01 L518.00,246.67 L518.50,247.29 L519.00,247.90 L519.50,248.47 L520.00,249.03 L520.50,249.55 L521.00,250.06 L521.50,250.54 L522.00,251.00 L522.50,251.45 L523.00,251.87 L523.50,252.28 L524.00,252.66 L524.50,253.03 L525.00,253.39 L525.50,253.73 L526.00,254.05 L526.50,254.36 L527.00,254.66 L527.50,254.94 L528.00,255.21 L528.50,255.46 L529.00,255.71 L529.50,255.94 L530.00,256.16 L530.50,256.37 L531.00,256.58 L531.50,256.77 L532.00,256.95 L532.50,257.12 L533.00,257.28 L533.50,257.44 L534.00,257.58 L534.50,257.72 L535.00,257.85 L535.50,257.97 L536.00,258.08 L536.50,258.19 L537.00,258.29 L537.50,258.38 L538.00,258.47 L538.50,258.55 L539.00,258.62 L539.50,258.69 L540.00,258.75 L540.50,258.81 L541.00,258.86 L541.50,258.90 L542.00,258.94 L542.50,258.97 L543.00,259.00 L543.50,259.03 L544.00,259.05 L544.50,259.06 L545.00,259.08 L545.50,259.08 L546.00,259.09 L546.50,259.08 L547.00,259.08 L547.50,259.07 L548.00,259.06 L548.50,259.04 L549.00,259.02 L549.50,258.99 L550.00,258.97 L550.50,258.94 L551.00,258.90 L551.50,258.87 L552.00,258.82 L552.50,258.78 L553.00,258.74 L553.50,258.69 L554.00,258.64 L554.50,258.58 L555.00,258.52 L555.50,258.46 L556.00,258.40 L556.50,258.34 L557.00,258.27 L557.50,258.20 L558.00,258.13 L558.50,258.05 L559.00,257.98 L559.50,257.90 L560.00,257.82 L560.50,257.74 L561.00,257.65 L561.50,257.57 L562.00,257.48 L562.50,257.39 L563.00,257.30 L563.50,257.20 L564.00,257.11 L564.50,257.01 L565.00,256.91 L565.50,256.81 L566.00,256.71 L566.50,256.61 L567.00,256.50 L567.50,256.40 L568.00,256.29 L568.50,256.18 L569.00,256.07 L569.50,255.96 L570.00,255.84 L570.50,255.73 L571.00,255.61 L571.50,255.50 L572.00,255.38 L572.50,255.26 L573.00,255.14 L573.50,255.02 L574.00,254.89 L574.50,254.77 L575.00,254.65 L575.50,254.52 L576.00,254.39 L576.50,254.26 L577.00,254.14 L577.50,254.01 L578.00,253.88 L578.50,253.74 L579.00,253.61 L579.50,253.48 L580.00,253.35 L580.50,253.21 L581.00,253.08 L581.50,252.94 L582.00,252.80 L582.50,252.66 L583.00,252.53 L583.50,252.39 L584.00,252.25 L584.50,252.11 L585.00,251.97 L585.50,251.82 L586.00,251.68 L586.50,251.54 L587.00,251.40 L587.50,251.25 L588.00,251.11 L588.50,250.96 L589.00,250.82 L589.50,250.67 L590.00,250.52 L590.50,250.38 L591.00,250.23 L591.50,250.08 L592.00,249.93 L592.50,249.78 L593.00,249.63 L593.50,249.48 L594.00,249.33 L594.50,249.18 L595.00,249.03 L595.50,248.88 L596.00,248.73 L596.50,248.58 L597.00,248.42 L597.50,248.27 L598.00,248.12 L598.50,247.96 L599.00,247.81 L599.50,247.66 L600.00,247.50 L600.50,247.35 L601.00,247.19 L601.50,247.04 L602.00,246.88 L602.50,246.73 L603.00,246.57 L603.50,246.42 L604.00,246.26 L604.50,246.10 L605.00,245.95 L605.50,245.79 L606.00,245.63 L606.50,245.48 L607.00,245.32 L607.50,245.16 L608.00,245.00 L608.50,244.85 L609.00,244.69 L609.50,244.53 L610.00,244.37 L610.50,244.22 L611.00,244.06 L611.50,243.90 L612.00,243.74 L612.50,243.58 L613.00,243.42 L613.50,243.26 L614.00,243.11 L614.50,242.95 L615.00,242.79 L615.50,242.63 L616.00,242.47 L616.50,242.31 L617.00,242.15 L617.50,241.99 L618.00,241.83 L618.50,241.68 L619.00,241.52 L619.50,241.36 L620.00,241.20 L620.50,241.04 L621.00,240.88 L621.50,240.72 L622.00,240.56 L622.50,240.40 L623.00,240.24 L623.50,240.08 L624.00,239.93 L624.50,239.77 L625.00,239.61 L625.50,239.45 L626.00,239.29 L626.50,239.13 L627.00,238.97 L627.50,238.81 L628.00,238.66 L628.50,238.50 L629.00,238.34 L629.50,238.18 L630.00,238.02 L630.50,237.86 L631.00,237.71 L631.50,237.55 L632.00,237.39 L632.50,237.23 L633.00,237.08 L633.50,236.92 L634.00,236.76 L634.50,236.60 L635.00,236.45 L635.50,236.29 L636.00,236.13 L636.50,235.98 L637.00,235.82 L637.50,235.66 L638.00,235.51 L638.50,235.35 L639.00,235.19 L639.50,235.04 L640.00,234.88 L640.50,234.73 L641.00,234.57 L641.50,234.42 L642.00,234.26 L642.50,234.11 L643.00,233.95 L643.50,233.80 L644.00,233.64 L644.50,233.49 L645.00,233.33 L645.50,233.18 L646.00,233.03 L646.50,232.87 L647.00,232.72 L647.50,232.56 L648.00,232.41 L648.50,232.26 L649.00,232.11 L649.50,231.95 L650.00,231.80 L650.50,231.65 L651.00,231.50 L651.50,231.35 L652.00,231.20 L652.50,231.04 L653.00,230.89 L653.50,230.74 L654.00,230.59 L654.50,230.44 L655.00,230.29 L655.50,230.14 L656.00,229.99 L656.50,229.84 L657.00,229.69 L657.50,229.55 L658.00,229.40 L658.50,229.25 L659.00,229.10 L659.50,228.95 L660.00,228.80 L660.50,228.66 L661.00,228.51 L661.50,228.36 L662.00,228.22 L662.50,228.07 L663.00,227.92 L663.50,227.78" fill="none" stroke="#EDB120" stroke-width="1.1" stroke-linejoin="round" stroke-linecap="round" />
<path d="M498.32,176.10 L498.50,178.29 L499.00,183.49 L499.50,188.23 L500.00,192.59 L500.50,196.59 L501.00,200.29 L501.50,203.72 L502.00,206.90 L502.50,209.86 L503.00,212.63 L503.50,215.21 L504.00,217.63 L504.50,219.91 L505.00,222.05 L505.50,224.06 L506.00,225.96 L506.50,227.75 L507.00,229.45 L507.50,231.05 L508.00,232.58 L508.50,234.02 L509.00,235.39 L509.50,236.69 L510.00,237.93 L510.50,239.11 L511.00,240.23 L511.50,241.30 L512.00,242.32 L512.50,243.30 L513.00,244.23 L513.50,245.12 L514.00,245.96 L514.50,246.78 L515.00,247.55 L515.50,248.30 L516.00,249.01 L516.50,249.69 L517.00,250.34 L517.50,250.97 L518.00,251.57 L518.50,252.14 L519.00,252.69 L519.50,253.22 L520.00,253.72 L520.50,254.21 L521.00,254.68 L521.50,255.12 L522.00,255.55 L522.50,255.96 L523.00,256.35 L523.50,256.73 L524.00,257.09 L524.50,257.44 L525.00,257.77 L525.50,258.09 L526.00,258.40 L526.50,258.69 L527.00,258.97 L527.50,259.24 L528.00,259.50 L528.50,259.75 L529.00,259.98 L529.50,260.21 L530.00,260.43 L530.50,260.63 L531.00,260.83 L531.50,261.02 L532.00,261.20 L532.50,261.37 L533.00,261.53 L533.50,261.68 L534.00,261.83 L534.50,261.97 L535.00,262.10 L535.50,262.23 L536.00,262.35 L536.50,262.46 L537.00,262.57 L537.50,262.67 L538.00,262.76 L538.50,262.85 L539.00,262.93 L539.50,263.01 L540.00,263.08 L540.50,263.15 L541.00,263.21 L541.50,263.27 L542.00,263.32 L542.50,263.37 L543.00,263.41 L543.50,263.45 L544.00,263.48 L544.50,263.51 L545.00,263.54 L545.50,263.56 L546.00,263.58 L546.50,263.60 L547.00,263.61 L547.50,263.62 L548.00,263.62 L548.50,263.62 L549.00,263.62 L549.50,263.62 L550.00,263.61 L550.50,263.60 L551.00,263.58 L551.50,263.57 L552.00,263.55 L552.50,263.52 L553.00,263.50 L553.50,263.47 L554.00,263.44 L554.50,263.41 L555.00,263.37 L555.50,263.34 L556.00,263.30 L556.50,263.26 L557.00,263.21 L557.50,263.17 L558.00,263.12 L558.50,263.07 L559.00,263.02 L559.50,262.96 L560.00,262.91 L560.50,262.85 L561.00,262.79 L561.50,262.73 L562.00,262.67 L562.50,262.60 L563.00,262.54 L563.50,262.47 L564.00,262.40 L564.50,262.33 L565.00,262.26 L565.50,262.18 L566.00,262.11 L566.50,262.03 L567.00,261.96 L567.50,261.88 L568.00,261.80 L568.50,261.72 L569.00,261.63 L569.50,261.55 L570.00,261.47 L570.50,261.38 L571.00,261.29 L571.50,261.20 L572.00,261.12 L572.50,261.03 L573.00,260.93 L573.50,260.84 L574.00,260.75 L574.50,260.66 L575.00,260.56 L575.50,260.47 L576.00,260.37 L576.50,260.27 L577.00,260.17 L577.50,260.08 L578.00,259.98 L578.50,259.88 L579.00,259.77 L579.50,259.67 L580.00,259.57 L580.50,259.47 L581.00,259.36 L581.50,259.26 L582.00,259.15 L582.50,259.05 L583.00,258.94 L583.50,258.84 L584.00,258.73 L584.50,258.62 L585.00,258.51 L585.50,258.40 L586.00,258.30 L586.50,258.19 L587.00,258.08 L587.50,257.96 L588.00,257.85 L588.50,257.74 L589.00,257.63 L589.50,257.52 L590.00,257.41 L590.50,257.29 L591.00,257.18 L591.50,257.07 L592.00,256.95 L592.50,256.84 L593.00,256.72 L593.50,256.61 L594.00,256.49 L594.50,256.38 L595.00,256.26 L595.50,256.15 L596.00,256.03 L596.50,255.91 L597.00,255.80 L597.50,255.68 L598.00,255.56 L598.50,255.44 L599.00,255.33 L599.50,255.21 L600.00,255.09 L600.50,254.97 L601.00,254.86 L601.50,254.74 L602.00,254.62 L602.50,254.50 L603.00,254.38 L603.50,254.26 L604.00,254.14 L604.50,254.03 L605.00,253.91 L605.50,253.79 L606.00,253.67 L606.50,253.55 L607.00,253.43 L607.50,253.31 L608.00,253.19 L608.50,253.07 L609.00,252.95 L609.50,252.83 L610.00,252.71 L610.50,252.59 L611.00,252.47 L611.50,252.35 L612.00,252.24 L612.50,252.12 L613.00,252.00 L613.50,251.88 L614.00,251.76 L614.50,251.64 L615.00,251.52 L615.50,251.40 L616.00,251.28 L616.50,251.16 L617.00,251.04 L617.50,250.92 L618.00,250.81 L618.50,250.69 L619.00,250.57 L619.50,250.45 L620.00,250.33 L620.50,250.21 L621.00,250.10 L621.50,249.98 L622.00,249.86 L622.50,249.74 L623.00,249.62 L623.50,249.51 L624.00,249.39 L624.50,249.27 L625.00,249.15 L625.50,249.04 L626.00,248.92 L626.50,248.80 L627.00,248.69 L627.50,248.57 L628.00,248.45 L628.50,248.34 L629.00,248.22 L629.50,248.11 L630.00,247.99 L630.50,247.88 L631.00,247.76 L631.50,247.65 L632.00,247.53 L632.50,247.42 L633.00,247.30 L633.50,247.19 L634.00,247.08 L634.50,246.96 L635.00,246.85 L635.50,246.74 L636.00,246.62 L636.50,246.51 L637.00,246.40 L637.50,246.29 L638.00,246.17 L638.50,246.06 L639.00,245.95 L639.50,245.84 L640.00,245.73 L640.50,245.62 L641.00,245.51 L641.50,245.40 L642.00,245.29 L642.50,245.18 L643.00,245.07 L643.50,244.96 L644.00,244.85 L644.50,244.74 L645.00,244.63 L645.50,244.53 L646.00,244.42 L646.50,244.31 L647.00,244.20 L647.50,244.10 L648.00,243.99 L648.50,243.88 L649.00,243.78 L649.50,243.67 L650.00,243.57 L650.50,243.46 L651.00,243.36 L651.50,243.25 L652.00,243.15 L652.50,243.04 L653.00,242.94 L653.50,242.84 L654.00,242.74 L654.50,242.63 L655.00,242.53 L655.50,242.43 L656.00,242.33 L656.50,242.23 L657.00,242.13 L657.50,242.02 L658.00,241.92 L658.50,241.82 L659.00,241.73 L659.50,241.63 L660.00,241.53 L660.50,241.43 L661.00,241.33 L661.50,241.23 L662.00,241.14 L662.50,241.04 L663.00,240.94 L663.50,240.85" fill="none" stroke="#7E2F8E" stroke-width="1.1" stroke-linejoin="round" stroke-linecap="round" />
<path d="M509.00,235.39 L509.50,236.72 L510.00,238.02 L510.50,239.29 L511.00,240.51 L511.50,241.70 L512.00,242.83 L512.50,243.91 L513.00,244.94 L513.50,245.91 L514.00,246.83 L514.50,247.70 L515.00,248.52 L515.50,249.30 L516.00,250.03 L516.50,250.72 L517.00,251.37 L517.50,251.98 L518.00,252.56 L518.50,253.11 L519.00,253.63 L519.50,254.13 L520.00,254.60 L520.50,255.05 L521.00,255.48 L521.50,255.91 L522.00,256.32 L522.50,256.73 L523.00,257.12 L523.50,257.50 L524.00,257.88 L524.50,258.24 L525.00,258.59 L525.50,258.94 L526.00,259.28 L526.50,259.61 L527.00,259.93 L527.50,260.24 L528.00,260.55 L528.50,260.85 L529.00,261.14 L529.50,261.43 L530.00,261.71 L530.50,261.99 L531.00,262.26 L531.50,262.52 L532.00,262.78 L532.50,263.03 L533.00,263.27 L533.50,263.52 L534.00,263.75 L534.50,263.98 L535.00,264.21 L535.50,264.44 L536.00,264.65 L536.50,264.87 L537.00,265.08 L537.50,265.29 L538.00,265.49 L538.50,265.69 L539.00,265.88 L539.50,266.07 L540.00,266.26 L540.50,266.45 L541.00,266.63 L541.50,266.81 L542.00,266.98 L542.50,267.16 L543.00,267.32 L543.50,267.49 L544.00,267.65 L544.50,267.82 L545.00,267.97 L545.50,268.13 L546.00,268.28 L546.50,268.43 L547.00,268.58 L547.50,268.73 L548.00,268.87 L548.50,269.01 L549.00,269.15 L549.50,269.29 L550.00,269.42 L550.50,269.55 L551.00,269.68 L551.50,269.81 L552.00,269.94 L552.50,270.06 L553.00,270.19 L553.50,270.31 L554.00,270.43 L554.50,270.54 L555.00,270.66 L555.50,270.77 L556.00,270.89 L556.50,271.00 L557.00,271.11 L557.50,271.21 L558.00,271.32 L558.50,271.43 L559.00,271.53 L559.50,271.63 L560.00,271.73 L560.50,271.83 L561.00,271.93 L561.50,272.02 L562.00,272.12 L562.50,272.21 L563.00,272.31 L563.50,272.40 L564.00,272.49 L564.50,272.58 L565.00,272.66 L565.50,272.75 L566.00,272.84 L566.50,272.92 L567.00,273.00 L567.50,273.09 L568.00,273.17 L568.50,273.25 L569.00,273.33 L569.50,273.40 L570.00,273.48 L570.50,273.56 L571.00,273.63 L571.50,273.71 L572.00,273.78 L572.50,273.85 L573.00,273.93 L573.50,274.00 L574.00,274.07 L574.50,274.14 L575.00,274.20 L575.50,274.27 L576.00,274.34 L576.50,274.40 L577.00,274.47 L577.50,274.53 L578.00,274.60 L578.50,274.66 L579.00,274.72 L579.50,274.78 L580.00,274.84 L580.50,274.90 L581.00,274.96 L581.50,275.02 L582.00,275.08 L582.50,275.14 L583.00,275.19 L583.50,275.25 L584.00,275.30 L584.50,275.36 L585.00,275.41 L585.50,275.46 L586.00,275.52 L586.50,275.57 L587.00,275.62 L587.50,275.67 L588.00,275.72 L588.50,275.77 L589.00,275.82 L589.50,275.87 L590.00,275.92 L590.50,275.97 L591.00,276.01 L591.50,276.06 L592.00,276.11 L592.50,276.15 L593.00,276.20 L593.50,276.24 L594.00,276.29 L594.50,276.33 L595.00,276.37 L595.50,276.42 L596.00,276.46 L596.50,276.50 L597.00,276.54 L597.50,276.58 L598.00,276.62 L598.50,276.66 L599.00,276.70 L599.50,276.74 L600.00,276.78 L600.50,276.82 L601.00,276.86 L601.50,276.90 L602.00,276.93 L602.50,276.97 L603.00,277.01 L603.50,277.04 L604.00,277.08 L604.50,277.11 L605.00,277.15 L605.50,277.18 L606.00,277.22 L606.50,277.25 L607.00,277.28 L607.50,277.32 L608.00,277.35 L608.50,277.38 L609.00,277.41 L609.50,277.45 L610.00,277.48 L610.50,277.51 L611.00,277.54 L611.50,277.57 L612.00,277.60 L612.50,277.63 L613.00,277.66 L613.50,277.69 L614.00,277.72 L614.50,277.75 L615.00,277.77 L615.50,277.80 L616.00,277.83 L616.50,277.86 L617.00,277.89 L617.50,277.91 L618.00,277.94 L618.50,277.97 L619.00,277.99 L619.50,278.02 L620.00,278.04 L620.50,278.07 L621.00,278.09 L621.50,278.12 L622.00,278.14 L622.50,278.17 L623.00,278.19 L623.50,278.21 L624.00,278.24 L624.50,278.26 L625.00,278.28 L625.50,278.31 L626.00,278.33 L626.50,278.35 L627.00,278.37 L627.50,278.40 L628.00,278.42 L628.50,278.44 L629.00,278.46 L629.50,278.48 L630.00,278.50 L630.50,278.52 L631.00,278.54 L631.50,278.56 L632.00,278.58 L632.50,278.60 L633.00,278.62 L633.50,278.64 L634.00,278.66 L634.50,278.68 L635.00,278.70 L635.50,278.72 L636.00,278.73 L636.50,278.75 L637.00,278.77 L637.50,278.79 L638.00,278.81 L638.50,278.82 L639.00,278.84 L639.50,278.86 L640.00,278.87 L640.50,278.89 L641.00,278.91 L641.50,278.92 L642.00,278.94 L642.50,278.96 L643.00,278.97 L643.50,278.99 L644.00,279.00 L644.50,279.02 L645.00,279.03 L645.50,279.05 L646.00,279.06 L646.50,279.08 L647.00,279.09 L647.50,279.11 L648.00,279.12 L648.50,279.13 L649.00,279.15 L649.50,279.16 L650.00,279.17 L650.50,279.19 L651.00,279.20 L651.50,279.21 L652.00,279.23 L652.50,279.24 L653.00,279.25 L653.50,279.26 L654.00,279.28 L654.50,279.29 L655.00,279.30 L655.50,279.31 L656.00,279.32 L656.50,279.34 L657.00,279.35 L657.50,279.36 L658.00,279.37 L658.50,279.38 L659.00,279.39 L659.50,279.40 L660.00,279.41 L660.50,279.42 L661.00,279.43 L661.50,279.45 L662.00,279.46" fill="none" stroke="#7E2F8E" stroke-width="1.2" stroke-linejoin="round" stroke-linecap="round" stroke-dasharray="3.9 2.4" stroke-linecap="butt"/>
<rect x="489.6" y="148.5" width="173.89999999999998" height="136.8" fill="none" stroke="#7f7f7f" stroke-width="0.8"/>
<line x1="489.60" y1="285.30" x2="491.40" y2="285.30" stroke="#7f7f7f" stroke-width="0.7" />
<line x1="661.70" y1="285.30" x2="663.50" y2="285.30" stroke="#7f7f7f" stroke-width="0.7" />
<text x="487.40" y="285.60" font-size="6.6" text-anchor="end" fill="#262626" dy="0.35em" >0</text>
<line x1="489.60" y1="268.20" x2="491.40" y2="268.20" stroke="#7f7f7f" stroke-width="0.7" />
<line x1="661.70" y1="268.20" x2="663.50" y2="268.20" stroke="#7f7f7f" stroke-width="0.7" />
<text x="487.40" y="268.50" font-size="6.6" text-anchor="end" fill="#262626" dy="0.35em" >0.002</text>
<line x1="489.60" y1="251.10" x2="491.40" y2="251.10" stroke="#7f7f7f" stroke-width="0.7" />
<line x1="661.70" y1="251.10" x2="663.50" y2="251.10" stroke="#7f7f7f" stroke-width="0.7" />
<text x="487.40" y="251.40" font-size="6.6" text-anchor="end" fill="#262626" dy="0.35em" >0.004</text>
<line x1="489.60" y1="234.00" x2="491.40" y2="234.00" stroke="#7f7f7f" stroke-width="0.7" />
<line x1="661.70" y1="234.00" x2="663.50" y2="234.00" stroke="#7f7f7f" stroke-width="0.7" />
<text x="487.40" y="234.30" font-size="6.6" text-anchor="end" fill="#262626" dy="0.35em" >0.006</text>
<line x1="489.60" y1="216.90" x2="491.40" y2="216.90" stroke="#7f7f7f" stroke-width="0.7" />
<line x1="661.70" y1="216.90" x2="663.50" y2="216.90" stroke="#7f7f7f" stroke-width="0.7" />
<text x="487.40" y="217.20" font-size="6.6" text-anchor="end" fill="#262626" dy="0.35em" >0.008</text>
<line x1="489.60" y1="199.80" x2="491.40" y2="199.80" stroke="#7f7f7f" stroke-width="0.7" />
<line x1="661.70" y1="199.80" x2="663.50" y2="199.80" stroke="#7f7f7f" stroke-width="0.7" />
<text x="487.40" y="200.10" font-size="6.6" text-anchor="end" fill="#262626" dy="0.35em" >0.01</text>
<line x1="489.60" y1="182.70" x2="491.40" y2="182.70" stroke="#7f7f7f" stroke-width="0.7" />
<line x1="661.70" y1="182.70" x2="663.50" y2="182.70" stroke="#7f7f7f" stroke-width="0.7" />
<text x="487.40" y="183.00" font-size="6.6" text-anchor="end" fill="#262626" dy="0.35em" >0.012</text>
<line x1="489.60" y1="165.60" x2="491.40" y2="165.60" stroke="#7f7f7f" stroke-width="0.7" />
<line x1="661.70" y1="165.60" x2="663.50" y2="165.60" stroke="#7f7f7f" stroke-width="0.7" />
<text x="487.40" y="165.90" font-size="6.6" text-anchor="end" fill="#262626" dy="0.35em" >0.014</text>
<line x1="489.60" y1="148.50" x2="491.40" y2="148.50" stroke="#7f7f7f" stroke-width="0.7" />
<line x1="661.70" y1="148.50" x2="663.50" y2="148.50" stroke="#7f7f7f" stroke-width="0.7" />
<text x="487.40" y="148.80" font-size="6.6" text-anchor="end" fill="#262626" dy="0.35em" >0.016</text>
<line x1="489.60" y1="285.30" x2="489.60" y2="283.50" stroke="#7f7f7f" stroke-width="0.7" />
<line x1="489.60" y1="148.50" x2="489.60" y2="150.30" stroke="#7f7f7f" stroke-width="0.7" />
<text x="489.60" y="292.30" font-size="6.6" text-anchor="middle" fill="#262626" dy="0.35em" >0</text>
<line x1="511.34" y1="285.30" x2="511.34" y2="283.50" stroke="#7f7f7f" stroke-width="0.7" />
<line x1="511.34" y1="148.50" x2="511.34" y2="150.30" stroke="#7f7f7f" stroke-width="0.7" />
<text x="511.34" y="292.30" font-size="6.6" text-anchor="middle" fill="#262626" dy="0.35em" >0.5</text>
<line x1="533.08" y1="285.30" x2="533.08" y2="283.50" stroke="#7f7f7f" stroke-width="0.7" />
<line x1="533.08" y1="148.50" x2="533.08" y2="150.30" stroke="#7f7f7f" stroke-width="0.7" />
<text x="533.08" y="292.30" font-size="6.6" text-anchor="middle" fill="#262626" dy="0.35em" >1</text>
<line x1="554.81" y1="285.30" x2="554.81" y2="283.50" stroke="#7f7f7f" stroke-width="0.7" />
<line x1="554.81" y1="148.50" x2="554.81" y2="150.30" stroke="#7f7f7f" stroke-width="0.7" />
<text x="554.81" y="292.30" font-size="6.6" text-anchor="middle" fill="#262626" dy="0.35em" >1.5</text>
<line x1="576.55" y1="285.30" x2="576.55" y2="283.50" stroke="#7f7f7f" stroke-width="0.7" />
<line x1="576.55" y1="148.50" x2="576.55" y2="150.30" stroke="#7f7f7f" stroke-width="0.7" />
<text x="576.55" y="292.30" font-size="6.6" text-anchor="middle" fill="#262626" dy="0.35em" >2</text>
<line x1="598.29" y1="285.30" x2="598.29" y2="283.50" stroke="#7f7f7f" stroke-width="0.7" />
<line x1="598.29" y1="148.50" x2="598.29" y2="150.30" stroke="#7f7f7f" stroke-width="0.7" />
<text x="598.29" y="292.30" font-size="6.6" text-anchor="middle" fill="#262626" dy="0.35em" >2.5</text>
<line x1="620.02" y1="285.30" x2="620.02" y2="283.50" stroke="#7f7f7f" stroke-width="0.7" />
<line x1="620.02" y1="148.50" x2="620.02" y2="150.30" stroke="#7f7f7f" stroke-width="0.7" />
<text x="620.02" y="292.30" font-size="6.6" text-anchor="middle" fill="#262626" dy="0.35em" >3</text>
<line x1="641.76" y1="285.30" x2="641.76" y2="283.50" stroke="#7f7f7f" stroke-width="0.7" />
<line x1="641.76" y1="148.50" x2="641.76" y2="150.30" stroke="#7f7f7f" stroke-width="0.7" />
<text x="641.76" y="292.30" font-size="6.6" text-anchor="middle" fill="#262626" dy="0.35em" >3.5</text>
<line x1="663.50" y1="285.30" x2="663.50" y2="283.50" stroke="#7f7f7f" stroke-width="0.7" />
<line x1="663.50" y1="148.50" x2="663.50" y2="150.30" stroke="#7f7f7f" stroke-width="0.7" />
<text x="663.50" y="292.30" font-size="6.6" text-anchor="middle" fill="#262626" dy="0.35em" >4</text>
<text x="577.00" y="300.50" font-size="7" text-anchor="middle" fill="#262626" dy="0.35em" >gapsize (um)</text>
<text x="461" y="217" font-size="8.2" text-anchor="middle" dy="0.35em" fill="#262626" transform="rotate(-90 461 217)">Angle Random Walk (°·h<tspan dy="-0.35em" font-size="70%">-1/2</tspan><tspan dy="0.35em">)</tspan></text>
<text x="0" y="0" font-size="9.3" fill="#000" transform="translate(495.6,281.7) scale(0.87,1)">Navi. grade</text>
<rect x="596.6" y="151.2" width="58.2" height="33.3" fill="#fff" stroke="#bfbfbf" stroke-width="0.7"/>
<line x1="598.10" y1="156.80" x2="610.30" y2="156.80" stroke="#0072BD" stroke-width="0.9" />
<text x="611.40" y="156.80" font-size="6.4" text-anchor="start" fill="#000" dy="0.35em" >Q = 1.7 million</text>
<line x1="598.10" y1="164.73" x2="610.30" y2="164.73" stroke="#D95319" stroke-width="0.9" />
<text x="611.40" y="164.73" font-size="6.4" text-anchor="start" fill="#000" dy="0.35em" >Q = 2.3 million</text>
<line x1="598.10" y1="172.66" x2="610.30" y2="172.66" stroke="#EDB120" stroke-width="0.9" />
<text x="611.40" y="172.66" font-size="6.4" text-anchor="start" fill="#000" dy="0.35em" >Q = 3.5 million</text>
<line x1="598.10" y1="180.59" x2="610.30" y2="180.59" stroke="#7E2F8E" stroke-width="0.9" />
<text x="611.40" y="180.59" font-size="6.4" text-anchor="start" fill="#000" dy="0.35em" >Q = 4.6 million</text>
<path d="M640.60,238.10 L641.81,241.34 L645.26,241.49 L642.56,243.64 L643.48,246.96 L640.60,245.06 L637.72,246.96 L638.64,243.64 L635.94,241.49 L639.39,241.34Z" fill="#7E2F8E" stroke="none" stroke-width="0" stroke-linejoin="miter"/>
<path d="M642.80,271.70 L644.11,275.20 L647.84,275.36 L644.92,277.69 L645.92,281.29 L642.80,279.23 L639.68,281.29 L640.68,277.69 L637.76,275.36 L641.49,275.20Z" fill="#fff" stroke="#7E2F8E" stroke-width="1.0" stroke-linejoin="miter"/>
<text x="0" y="0" font-size="9.8" fill="#000" transform="translate(597.8,256.4) rotate(-14) scale(0.86,1)">This work</text>
<text x="0" y="0" font-size="9.6" fill="#000" transform="translate(621.8,269.7) scale(0.83,1)">Projected</text>
<text x="0" y="0" font-size="8.4" font-style="italic" fill="#7E2F8E" transform="translate(543.0,269.0) rotate(4.5)">J<tspan font-size="62%" dy="0.3em">spike</tspan><tspan dy="-0.3em"> = 0.1 pA·Hz</tspan><tspan font-size="62%" dy="-0.3em">-1/2</tspan></text>
<line x1="73.10" y1="446.17" x2="248.40" y2="446.17" stroke="#D9D9D9" stroke-width="0.75" />
<line x1="73.10" y1="433.93" x2="248.40" y2="433.93" stroke="#D9D9D9" stroke-width="0.75" />
<line x1="73.10" y1="421.70" x2="248.40" y2="421.70" stroke="#D9D9D9" stroke-width="0.75" />
<line x1="73.10" y1="409.47" x2="248.40" y2="409.47" stroke="#D9D9D9" stroke-width="0.75" />
<line x1="73.10" y1="397.23" x2="248.40" y2="397.23" stroke="#D9D9D9" stroke-width="0.75" />
<line x1="73.10" y1="385.00" x2="248.40" y2="385.00" stroke="#D9D9D9" stroke-width="0.75" />
<line x1="73.10" y1="372.77" x2="248.40" y2="372.77" stroke="#D9D9D9" stroke-width="0.75" />
<line x1="73.10" y1="360.53" x2="248.40" y2="360.53" stroke="#D9D9D9" stroke-width="0.75" />
<line x1="73.10" y1="348.30" x2="248.40" y2="348.30" stroke="#D9D9D9" stroke-width="0.75" />
<line x1="160.75" y1="348.30" x2="160.75" y2="458.40" stroke="#D9D9D9" stroke-width="0.75" />
<line x1="73.10" y1="348.30" x2="73.10" y2="458.40" stroke="#D9D9D9" stroke-width="0.75" />
<line x1="73.10" y1="458.40" x2="248.40" y2="458.40" stroke="#BFBFBF" stroke-width="0.9" />
<line x1="248.40" y1="348.30" x2="248.40" y2="458.40" stroke="#BFBFBF" stroke-width="0.9" />
<line x1="73.10" y1="458.40" x2="73.10" y2="460.90" stroke="#BFBFBF" stroke-width="0.9" />
<line x1="160.75" y1="458.40" x2="160.75" y2="460.90" stroke="#BFBFBF" stroke-width="0.9" />
<line x1="248.40" y1="458.40" x2="248.40" y2="460.90" stroke="#BFBFBF" stroke-width="0.9" />
<line x1="248.40" y1="458.40" x2="250.90" y2="458.40" stroke="#BFBFBF" stroke-width="0.9" />
<line x1="248.40" y1="436.38" x2="250.90" y2="436.38" stroke="#BFBFBF" stroke-width="0.9" />
<line x1="248.40" y1="414.36" x2="250.90" y2="414.36" stroke="#BFBFBF" stroke-width="0.9" />
<line x1="248.40" y1="392.34" x2="250.90" y2="392.34" stroke="#BFBFBF" stroke-width="0.9" />
<line x1="248.40" y1="370.32" x2="250.90" y2="370.32" stroke="#BFBFBF" stroke-width="0.9" />
<line x1="248.40" y1="348.30" x2="250.90" y2="348.30" stroke="#BFBFBF" stroke-width="0.9" />
<text x="63.90" y="458.40" font-size="9" text-anchor="end" fill="#ED7D31" dy="0.35em" >50</text>
<text x="63.90" y="446.17" font-size="9" text-anchor="end" fill="#ED7D31" dy="0.35em" >70</text>
<text x="63.90" y="433.93" font-size="9" text-anchor="end" fill="#ED7D31" dy="0.35em" >90</text>
<text x="63.90" y="421.70" font-size="9" text-anchor="end" fill="#ED7D31" dy="0.35em" >110</text>
<text x="63.90" y="409.47" font-size="9" text-anchor="end" fill="#ED7D31" dy="0.35em" >130</text>
<text x="63.90" y="397.23" font-size="9" text-anchor="end" fill="#ED7D31" dy="0.35em" >150</text>
<text x="63.90" y="385.00" font-size="9" text-anchor="end" fill="#ED7D31" dy="0.35em" >170</text>
<text x="63.90" y="372.77" font-size="9" text-anchor="end" fill="#ED7D31" dy="0.35em" >190</text>
<text x="63.90" y="360.53" font-size="9" text-anchor="end" fill="#ED7D31" dy="0.35em" >210</text>
<text x="63.90" y="348.30" font-size="9" text-anchor="end" fill="#ED7D31" dy="0.35em" >230</text>
<text x="257.60" y="458.40" font-size="9" text-anchor="start" fill="#4472C4" dy="0.35em" >0</text>
<text x="257.60" y="436.38" font-size="9" text-anchor="start" fill="#4472C4" dy="0.35em" >0.05</text>
<text x="257.60" y="414.36" font-size="9" text-anchor="start" fill="#4472C4" dy="0.35em" >0.1</text>
<text x="257.60" y="392.34" font-size="9" text-anchor="start" fill="#4472C4" dy="0.35em" >0.15</text>
<text x="257.60" y="370.32" font-size="9" text-anchor="start" fill="#4472C4" dy="0.35em" >0.2</text>
<text x="257.60" y="348.30" font-size="9" text-anchor="start" fill="#4472C4" dy="0.35em" >0.25</text>
<text x="73.10" y="469.70" font-size="8.3" text-anchor="middle" fill="#000" dy="0.35em" >1</text>
<text x="160.75" y="469.70" font-size="8.3" text-anchor="middle" fill="#000" dy="0.35em" >3</text>
<text x="248.40" y="469.70" font-size="8.3" text-anchor="middle" fill="#000" dy="0.35em" >5</text>
<text x="103.18" y="470.20" font-size="7" text-anchor="middle" fill="#000" dy="0.35em" >1.7</text>
<text x="103.18" y="479.40" font-size="7" text-anchor="middle" fill="#000" dy="0.35em" >Room</text>
<text x="103.18" y="488.20" font-size="7" text-anchor="middle" fill="#000" dy="0.35em" >Temp</text>
<text x="129.47" y="470.20" font-size="7" text-anchor="middle" fill="#000" dy="0.35em" >2.3</text>
<text x="129.47" y="479.40" font-size="7" text-anchor="middle" fill="#000" dy="0.35em" >40°C</text>
<text x="182.06" y="470.20" font-size="7" text-anchor="middle" fill="#000" dy="0.35em" >3.5</text>
<text x="182.06" y="479.40" font-size="7" text-anchor="middle" fill="#000" dy="0.35em" >60°C</text>
<text x="230.27" y="470.20" font-size="7" text-anchor="middle" fill="#000" dy="0.35em" >4.6</text>
<text x="230.27" y="479.40" font-size="7" text-anchor="middle" fill="#000" dy="0.35em" >80°C</text>
<text x="161.50" y="490.90" font-size="9.2" text-anchor="middle" fill="#000" dy="0.35em" >Q (million)</text>
<text x="34.4" y="406.6" font-size="9" text-anchor="middle" dy="0.35em" fill="#ED7D31" transform="rotate(-90 34.4 406.6)">ARW<tspan dy="-0.35em" font-size="70%">-1</tspan><tspan dy="0.35em"> (h</tspan><tspan dy="-0.35em" font-size="70%">1/2</tspan><tspan font-size="70%">·°-1</tspan><tspan dy="0.35em">)</tspan></text>
<text x="290.6" y="411.6" font-size="8.6" text-anchor="middle" dy="0.35em" fill="#4472C4" transform="rotate(-90 290.6 411.6)">Scale Factor (μA·°<tspan dy="-0.35em" font-size="70%">-1</tspan><tspan dy="0.35em">·s)</tspan></text>
<line x1="104.50" y1="444.40" x2="104.50" y2="458.40" stroke="#111" stroke-width="1.0" stroke-dasharray="1.2 1.3"/>
<line x1="131.20" y1="424.30" x2="131.20" y2="458.40" stroke="#111" stroke-width="1.0" stroke-dasharray="1.2 1.3"/>
<line x1="183.60" y1="391.70" x2="183.60" y2="458.40" stroke="#111" stroke-width="1.0" stroke-dasharray="1.2 1.3"/>
<line x1="231.70" y1="366.60" x2="231.70" y2="458.40" stroke="#111" stroke-width="1.0" stroke-dasharray="1.2 1.3"/>
<line x1="103.40" y1="442.20" x2="230.60" y2="364.80" stroke="#ED7D31" stroke-width="1.2" stroke-dasharray="1 1.4"/>
<line x1="103.40" y1="425.30" x2="230.60" y2="360.10" stroke="#4472C4" stroke-width="1.2" stroke-dasharray="1 1.4"/>
<circle cx="103.40" cy="427.30" r="2.6" fill="#4472C4"/>
<circle cx="103.40" cy="444.40" r="2.6" fill="#ED7D31"/>
<circle cx="130.10" cy="409.70" r="2.6" fill="#4472C4"/>
<circle cx="130.10" cy="424.30" r="2.6" fill="#ED7D31"/>
<circle cx="182.50" cy="383.30" r="2.6" fill="#4472C4"/>
<circle cx="182.50" cy="391.70" r="2.6" fill="#ED7D31"/>
<circle cx="230.60" cy="361.40" r="2.6" fill="#4472C4"/>
<circle cx="230.60" cy="366.60" r="2.6" fill="#ED7D31"/>
<text x="75.70" y="436.40" font-size="8.6" text-anchor="start" fill="#ED7D31" dy="0.35em" >ARW<tspan dy="-0.35em" font-size="70%">-1</tspan></text>
<line x1="86.00" y1="447.20" x2="92.00" y2="447.20" stroke="#ED7D31" stroke-width="0.7" />
<path d="M84.2,447.2 L86.6,446 L86.6,448.4Z" fill="#ED7D31"/>
<text x="235.70" y="351.90" font-size="9" text-anchor="start" fill="#4472C4" dy="0.35em" >SF</text>
<line x1="237.00" y1="362.70" x2="243.50" y2="362.70" stroke="#4472C4" stroke-width="0.7" />
<path d="M245.3,362.7 L242.9,361.5 L242.9,363.9Z" fill="#4472C4"/>
<line x1="425.66" y1="346.50" x2="425.66" y2="470.80" stroke="#D9D9D9" stroke-width="0.75" />
<line x1="465.31" y1="346.50" x2="465.31" y2="470.80" stroke="#D9D9D9" stroke-width="0.75" />
<line x1="504.97" y1="346.50" x2="504.97" y2="470.80" stroke="#D9D9D9" stroke-width="0.75" />
<line x1="544.63" y1="346.50" x2="544.63" y2="470.80" stroke="#D9D9D9" stroke-width="0.75" />
<line x1="584.29" y1="346.50" x2="584.29" y2="470.80" stroke="#D9D9D9" stroke-width="0.75" />
<line x1="623.94" y1="346.50" x2="623.94" y2="470.80" stroke="#D9D9D9" stroke-width="0.75" />
<line x1="663.60" y1="346.50" x2="663.60" y2="470.80" stroke="#D9D9D9" stroke-width="0.75" />
<line x1="386.00" y1="453.04" x2="663.60" y2="453.04" stroke="#D9D9D9" stroke-width="0.75" />
<line x1="386.00" y1="435.29" x2="663.60" y2="435.29" stroke="#D9D9D9" stroke-width="0.75" />
<line x1="386.00" y1="417.53" x2="663.60" y2="417.53" stroke="#D9D9D9" stroke-width="0.75" />
<line x1="386.00" y1="399.77" x2="663.60" y2="399.77" stroke="#D9D9D9" stroke-width="0.75" />
<line x1="386.00" y1="382.01" x2="663.60" y2="382.01" stroke="#D9D9D9" stroke-width="0.75" />
<line x1="386.00" y1="364.26" x2="663.60" y2="364.26" stroke="#D9D9D9" stroke-width="0.75" />
<line x1="386.00" y1="346.50" x2="663.60" y2="346.50" stroke="#D9D9D9" stroke-width="0.75" />
<line x1="386.00" y1="346.50" x2="386.00" y2="470.80" stroke="#BFBFBF" stroke-width="0.9" />
<line x1="386.00" y1="470.80" x2="663.60" y2="470.80" stroke="#BFBFBF" stroke-width="0.9" />
<text x="377.80" y="347.00" font-size="8.5" text-anchor="end" fill="#000" dy="0.35em" >1000</text>
<text x="377.80" y="364.76" font-size="8.5" text-anchor="end" fill="#000" dy="0.35em" >100</text>
<text x="377.80" y="382.51" font-size="8.5" text-anchor="end" fill="#000" dy="0.35em" >10</text>
<text x="377.80" y="400.27" font-size="8.5" text-anchor="end" fill="#000" dy="0.35em" >1</text>
<text x="377.80" y="418.03" font-size="8.5" text-anchor="end" fill="#000" dy="0.35em" >0.1</text>
<text x="377.80" y="435.79" font-size="8.5" text-anchor="end" fill="#000" dy="0.35em" >0.01</text>
<text x="377.80" y="453.54" font-size="8.5" text-anchor="end" fill="#000" dy="0.35em" >0.001</text>
<text x="377.80" y="471.30" font-size="8.5" text-anchor="end" fill="#000" dy="0.35em" >0.0001</text>
<text x="386.00" y="482.00" font-size="8.5" text-anchor="middle" fill="#000" dy="0.35em" >1990</text>
<text x="425.66" y="482.00" font-size="8.5" text-anchor="middle" fill="#000" dy="0.35em" >1995</text>
<text x="465.31" y="482.00" font-size="8.5" text-anchor="middle" fill="#000" dy="0.35em" >2000</text>
<text x="504.97" y="482.00" font-size="8.5" text-anchor="middle" fill="#000" dy="0.35em" >2005</text>
<text x="544.63" y="482.00" font-size="8.5" text-anchor="middle" fill="#000" dy="0.35em" >2010</text>
<text x="584.29" y="482.00" font-size="8.5" text-anchor="middle" fill="#000" dy="0.35em" >2015</text>
<text x="623.94" y="482.00" font-size="8.5" text-anchor="middle" fill="#000" dy="0.35em" >2020</text>
<text x="663.60" y="482.00" font-size="8.5" text-anchor="middle" fill="#000" dy="0.35em" >2025</text>
<text x="523.00" y="492.00" font-size="8.8" text-anchor="middle" fill="#000" dy="0.35em" >Year</text>
<text x="333.1" y="410" font-size="8.5" text-anchor="middle" dy="0.35em" fill="#000" transform="rotate(-90 333.1 410)">Angle Random Walk (°·h<tspan dy="-0.35em" font-size="70%">-1/2</tspan><tspan dy="0.35em">)</tspan></text>
<line x1="384.50" y1="436.50" x2="662.50" y2="436.50" stroke="#ED7D31" stroke-width="2.6" stroke-dasharray="2.6 2.4"/>
<line x1="384.50" y1="453.50" x2="648.00" y2="453.50" stroke="#00B050" stroke-width="2.6" stroke-dasharray="2.6 2.4"/>
<text x="388.30" y="443.20" font-size="8.4" text-anchor="start" fill="#ED7D31" dy="0.35em" textLength="53" lengthAdjust="spacingAndGlyphs" >Tactical Grade</text>
<text x="388.30" y="459.70" font-size="8.4" text-anchor="start" fill="#00B050" dy="0.35em" textLength="63" lengthAdjust="spacingAndGlyphs" >Navigation Grade</text>
<path d="M400.10,354.10 L401.63,355.93 L403.64,358.35 L406.04,361.23 L408.72,364.46 L411.59,367.90 L414.54,371.43 L417.47,374.93 L420.30,378.28 L422.91,381.34 L425.20,384.00 L427.24,386.34 L429.15,388.54 L430.96,390.61 L432.67,392.56 L434.32,394.40 L435.93,396.15 L437.49,397.81 L439.05,399.40 L440.61,400.92 L442.20,402.40 L443.79,403.80 L445.36,405.11 L446.90,406.34 L448.42,407.48 L449.93,408.55 L451.42,409.56 L452.90,410.51 L454.37,411.41 L455.84,412.27 L457.30,413.10 L458.73,413.87 L460.12,414.57 L461.47,415.20 L462.82,415.77 L464.16,416.30 L465.51,416.80 L466.90,417.28 L468.33,417.74 L469.83,418.22 L471.40,418.70 L473.05,419.19 L474.76,419.66 L476.53,420.13 L478.35,420.58 L480.19,421.01 L482.07,421.44 L483.95,421.85 L485.84,422.24 L487.73,422.63 L489.60,423.00 L491.43,423.36 L493.23,423.70 L495.01,424.03 L496.79,424.35 L498.59,424.65 L500.44,424.94 L502.34,425.22 L504.32,425.49 L506.40,425.75 L508.60,426.00 L510.93,426.24 L513.39,426.46 L515.96,426.67 L518.60,426.87 L521.30,427.06 L524.04,427.24 L526.79,427.42 L529.53,427.58 L532.24,427.74 L534.90,427.90 L537.47,428.05 L539.94,428.19 L542.37,428.32 L544.78,428.45 L547.21,428.57 L549.71,428.68 L552.31,428.79 L555.05,428.90 L557.97,429.00 L561.10,429.10 L564.39,429.20 L567.77,429.29 L571.24,429.37 L574.84,429.45 L578.58,429.53 L582.48,429.61 L586.55,429.68 L590.81,429.75 L595.29,429.83 L600.00,429.90 L605.27,429.98 L611.26,430.06 L617.75,430.14 L624.50,430.22 L631.28,430.30 L637.87,430.38 L644.04,430.44 L649.55,430.51 L654.18,430.56 L657.70,430.60" fill="none" stroke="#5B9BD5" stroke-width="2.0" stroke-linejoin="round" stroke-linecap="round" stroke-dasharray="7.5 4" stroke-linecap="butt"/>
<text x="0" y="0" font-size="8" fill="#5B9BD5" transform="translate(401.5,381.5) rotate(47)">Planar Si gyros</text>
<circle cx="425.36" cy="363.50" r="2.3" fill="#4472C4"/>
<circle cx="441.22" cy="386.00" r="2.3" fill="#4472C4"/>
<circle cx="441.22" cy="394.80" r="2.3" fill="#4472C4"/>
<circle cx="449.15" cy="410.30" r="2.3" fill="#4472C4"/>
<circle cx="449.15" cy="423.40" r="2.3" fill="#4472C4"/>
<circle cx="457.08" cy="415.60" r="2.3" fill="#4472C4"/>
<circle cx="480.88" cy="418.00" r="2.3" fill="#4472C4"/>
<circle cx="488.81" cy="415.80" r="2.3" fill="#4472C4"/>
<circle cx="496.74" cy="400.00" r="2.3" fill="#4472C4"/>
<circle cx="496.74" cy="404.10" r="2.3" fill="#4472C4"/>
<circle cx="496.74" cy="420.60" r="2.3" fill="#4472C4"/>
<circle cx="504.67" cy="409.60" r="2.3" fill="#4472C4"/>
<circle cx="512.60" cy="415.40" r="2.3" fill="#4472C4"/>
<circle cx="520.53" cy="424.00" r="2.3" fill="#4472C4"/>
<circle cx="528.47" cy="416.90" r="2.3" fill="#4472C4"/>
<circle cx="528.47" cy="424.00" r="2.3" fill="#4472C4"/>
<circle cx="528.47" cy="427.40" r="2.3" fill="#4472C4"/>
<circle cx="536.40" cy="418.70" r="2.3" fill="#4472C4"/>
<circle cx="552.26" cy="421.80" r="2.3" fill="#4472C4"/>
<circle cx="552.26" cy="423.60" r="2.3" fill="#4472C4"/>
<circle cx="560.19" cy="418.70" r="2.3" fill="#4472C4"/>
<circle cx="560.19" cy="422.10" r="2.3" fill="#4472C4"/>
<circle cx="560.19" cy="433.40" r="2.3" fill="#4472C4"/>
<circle cx="568.12" cy="408.10" r="2.3" fill="#4472C4"/>
<circle cx="568.12" cy="420.80" r="2.3" fill="#4472C4"/>
<circle cx="576.05" cy="419.60" r="2.3" fill="#4472C4"/>
<circle cx="576.05" cy="426.20" r="2.3" fill="#4472C4"/>
<circle cx="583.99" cy="415.00" r="2.3" fill="#4472C4"/>
<circle cx="583.99" cy="417.50" r="2.3" fill="#4472C4"/>
<circle cx="583.99" cy="419.60" r="2.3" fill="#4472C4"/>
<circle cx="583.99" cy="421.30" r="2.3" fill="#4472C4"/>
<circle cx="591.92" cy="407.70" r="2.3" fill="#4472C4"/>
<circle cx="591.92" cy="424.30" r="2.3" fill="#4472C4"/>
<circle cx="591.92" cy="432.80" r="2.3" fill="#4472C4"/>
<circle cx="599.85" cy="403.90" r="2.3" fill="#4472C4"/>
<circle cx="599.85" cy="411.20" r="2.3" fill="#4472C4"/>
<circle cx="599.85" cy="414.80" r="2.3" fill="#4472C4"/>
<circle cx="607.78" cy="412.60" r="2.3" fill="#4472C4"/>
<circle cx="607.78" cy="416.00" r="2.3" fill="#4472C4"/>
<circle cx="607.78" cy="435.70" r="2.3" fill="#4472C4"/>
<circle cx="615.71" cy="402.10" r="2.3" fill="#4472C4"/>
<circle cx="615.71" cy="415.00" r="2.3" fill="#4472C4"/>
<circle cx="615.71" cy="425.50" r="2.3" fill="#4472C4"/>
<circle cx="623.64" cy="401.10" r="2.3" fill="#4472C4"/>
<circle cx="623.64" cy="422.10" r="2.3" fill="#4472C4"/>
<circle cx="623.64" cy="426.90" r="2.3" fill="#4472C4"/>
<circle cx="631.57" cy="400.70" r="2.3" fill="#4472C4"/>
<circle cx="631.57" cy="423.60" r="2.3" fill="#4472C4"/>
<circle cx="631.57" cy="430.30" r="2.3" fill="#4472C4"/>
<circle cx="639.51" cy="415.30" r="2.3" fill="#4472C4"/>
<circle cx="639.51" cy="428.10" r="2.3" fill="#4472C4"/>
<circle cx="639.51" cy="432.00" r="2.3" fill="#4472C4"/>
<path d="M648.50,434.60 L650.13,438.96 L654.78,439.16 L651.14,442.06 L652.38,446.54 L648.50,443.97 L644.62,446.54 L645.86,442.06 L642.22,439.16 L646.87,438.96Z" fill="#ED7D31" stroke="#1F3864" stroke-width="0.9" stroke-linejoin="miter"/>
<path d="M654.90,448.80 L656.53,453.16 L661.18,453.36 L657.54,456.26 L658.78,460.74 L654.90,458.17 L651.02,460.74 L652.26,456.26 L648.62,453.36 L653.27,453.16Z" fill="#00B050" stroke="#1F3864" stroke-width="0.9" stroke-linejoin="miter"/>
<text x="581.80" y="443.40" font-size="8.2" text-anchor="start" fill="#000" dy="0.35em" textLength="58.8" lengthAdjust="spacingAndGlyphs" >GT SiC BAW gyro</text>
<text x="549.50" y="460.20" font-size="8.2" text-anchor="start" fill="#000" dy="0.35em" textLength="97.3" lengthAdjust="spacingAndGlyphs" >Projected w/ low noise ASIC</text>
</svg></body></html>
